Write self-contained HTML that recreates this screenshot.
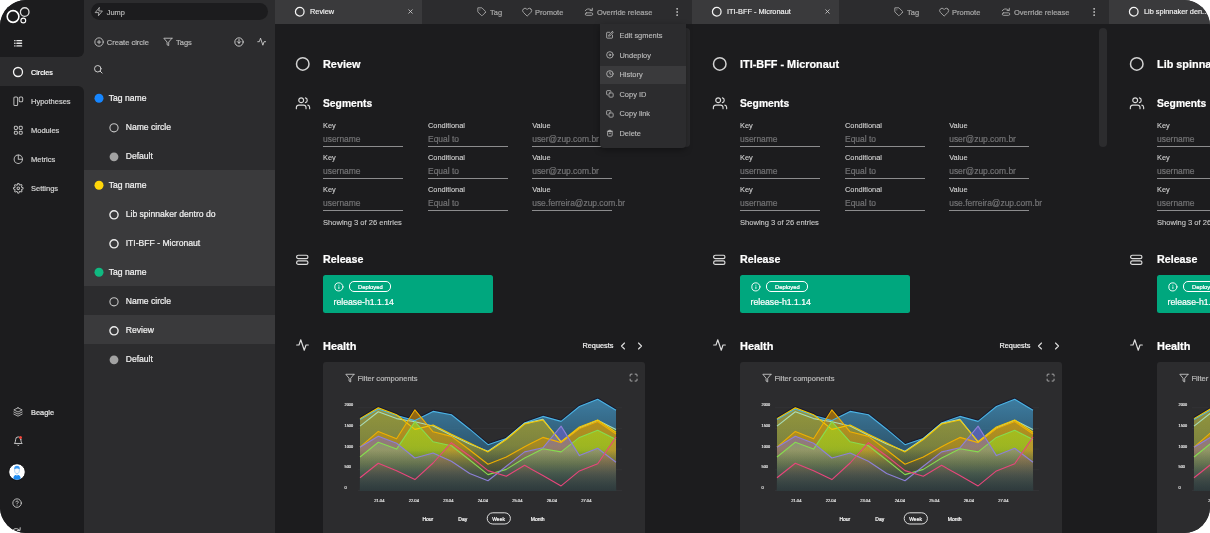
<!DOCTYPE html>
<html lang="en"><head><meta charset="utf-8"><title>Circles</title>
<style>
html,body{margin:0;padding:0;background:#fff;}
body{width:1210px;height:533px;overflow:hidden;position:relative;font-family:"Liberation Sans", sans-serif;}
#app{position:absolute;left:0;top:0;width:1210px;height:533px;background:#2c2c2e;border-radius:26px;overflow:hidden;will-change:transform;}
.b{position:absolute;box-sizing:content-box;}
.t{position:absolute;white-space:nowrap;-webkit-text-stroke:.22px currentColor;}
.i{position:absolute;overflow:visible;display:block;}
</style></head><body><div id="app">
<div class="b" style="left:0px;top:0px;width:84px;height:57px;background:#1c1c1e;border-bottom-right-radius:6px"></div>
<div class="b" style="left:0px;top:86px;width:84px;height:447px;background:#1c1c1e;border-top-right-radius:6px"></div>
<svg class="i" style="left:5px;top:5px;width:28px;height:22px" viewBox="0 0 28 22" fill="none" stroke="#fff"><circle cx="8.050" cy="11.500" r="5.850" stroke-width="1.600"/><circle cx="19.700" cy="7.050" r="4.300" stroke-width="1.300" stroke="#dcdcdc"/><circle cx="18.300" cy="15.500" r="2.400" stroke-width="1.100"/></svg>
<svg class="i" style="left:13px;top:38.2px;width:10.5px;height:10.5px" viewBox="0 0 24 24" fill="none" stroke="#e8e8e8" stroke-width="3.4" stroke-linecap="round" stroke-linejoin="round" ><line x1="9" y1="6" x2="19.500" y2="6"/><line x1="9" y1="12" x2="19.500" y2="12"/><line x1="9" y1="18" x2="19.500" y2="18"/><line x1="4" y1="6" x2="4.5" y2="6"/><line x1="4" y1="12" x2="4.5" y2="12"/><line x1="4" y1="18" x2="4.5" y2="18"/></svg>
<svg class="i" style="left:12px;top:66px;width:12px;height:12px" viewBox="0 0 24 24" fill="none" stroke="#f4f4f4" stroke-width="2.6" stroke-linecap="round" stroke-linejoin="round" ><circle cx="12" cy="12" r="9"/></svg>
<div class="t" style="left:31px;top:68px;font-size:7.2px;line-height:9px;color:#ffffff;font-weight:400;">Circles</div>
<svg class="i" style="left:12.7px;top:95.6px;width:10.6px;height:10.6px" viewBox="0 0 24 24" fill="none" stroke="#bcbcbc" stroke-width="2.3" stroke-linecap="round" stroke-linejoin="round" ><rect x="2" y="2.500" width="8.500" height="19" rx="2.500"/><rect x="14" y="2.500" width="8" height="10.500" rx="2.500"/></svg>
<div class="t" style="left:31px;top:97px;font-size:7.5px;line-height:9px;color:#d0d0d0;font-weight:400;">Hypotheses</div>
<svg class="i" style="left:12.7px;top:124.6px;width:10.6px;height:10.6px" viewBox="0 0 24 24" fill="none" stroke="#bcbcbc" stroke-width="2.3" stroke-linecap="round" stroke-linejoin="round" ><rect x="3" y="3" width="7" height="7" rx="2.2"/><rect x="14" y="3" width="7" height="7" rx="2.2"/><rect x="14" y="14" width="7" height="7" rx="2.2"/><rect x="3" y="14" width="7" height="7" rx="2.2"/></svg>
<div class="t" style="left:31px;top:126px;font-size:7.5px;line-height:9px;color:#d0d0d0;font-weight:400;">Modules</div>
<svg class="i" style="left:12.7px;top:153.6px;width:10.6px;height:10.6px" viewBox="0 0 24 24" fill="none" stroke="#bcbcbc" stroke-width="2.3" stroke-linecap="round" stroke-linejoin="round" ><circle cx="12" cy="12" r="9.5"/><path d="M12 2.5V12h9.5"/></svg>
<div class="t" style="left:31px;top:155px;font-size:7.5px;line-height:9px;color:#d0d0d0;font-weight:400;">Metrics</div>
<svg class="i" style="left:12.7px;top:182.6px;width:10.6px;height:10.6px" viewBox="0 0 24 24" fill="none" stroke="#bcbcbc" stroke-width="2.3" stroke-linecap="round" stroke-linejoin="round" ><circle cx="12" cy="12" r="3"/><path d="M19.4 15a1.65 1.65 0 0 0 .33 1.82l.06.06a2 2 0 0 1 0 2.83 2 2 0 0 1-2.83 0l-.06-.06a1.65 1.65 0 0 0-1.82-.33 1.65 1.65 0 0 0-1 1.51V21a2 2 0 0 1-2 2 2 2 0 0 1-2-2v-.09A1.65 1.65 0 0 0 9 19.4a1.65 1.65 0 0 0-1.82.33l-.06.06a2 2 0 0 1-2.83 0 2 2 0 0 1 0-2.83l.06-.06a1.65 1.65 0 0 0 .33-1.82 1.65 1.65 0 0 0-1.51-1H3a2 2 0 0 1-2-2 2 2 0 0 1 2-2h.09A1.65 1.65 0 0 0 4.6 9a1.65 1.65 0 0 0-.33-1.82l-.06-.06a2 2 0 0 1 0-2.83 2 2 0 0 1 2.83 0l.06.06a1.65 1.65 0 0 0 1.82.33H9a1.65 1.65 0 0 0 1-1.51V3a2 2 0 0 1 2-2 2 2 0 0 1 2 2v.09a1.65 1.65 0 0 0 1 1.51 1.65 1.65 0 0 0 1.82-.33l.06-.06a2 2 0 0 1 2.83 0 2 2 0 0 1 0 2.83l-.06.06a1.65 1.65 0 0 0-.33 1.82V9a1.65 1.65 0 0 0 1.51 1H21a2 2 0 0 1 2 2 2 2 0 0 1-2 2h-.09a1.65 1.65 0 0 0-1.51 1z"/></svg>
<div class="t" style="left:31px;top:184px;font-size:7.5px;line-height:9px;color:#d0d0d0;font-weight:400;">Settings</div>
<svg class="i" style="left:13px;top:407px;width:10px;height:10px" viewBox="0 0 24 24" fill="none" stroke="#c8c8c8" stroke-width="2" stroke-linecap="round" stroke-linejoin="round" ><polygon points="12 2 2 7 12 12 22 7 12 2"/><polyline points="2 17 12 22 22 17"/><polyline points="2 12 12 17 22 12"/></svg>
<div class="t" style="left:31px;top:408px;font-size:7.4px;line-height:9px;color:#e4e4e4;font-weight:400;">Beagle</div>
<svg class="i" style="left:12.5px;top:435.8px;width:10.5px;height:10.5px" viewBox="0 0 24 24" fill="none" stroke="#d4d4d4" stroke-width="2.1" stroke-linecap="round" stroke-linejoin="round" ><path d="M18 8A6 6 0 0 0 6 8c0 7-3 9-3 9h18s-3-2-3-9"/><path d="M13.73 21a2 2 0 0 1-3.46 0"/></svg>
<div class="b" style="left:19.2px;top:436.1px;width:3.1px;height:3.1px;background:#f0443a;border-radius:50%"></div>
<svg class="i" style="left:8.400px;top:462.600px;width:18px;height:18px" viewBox="0 0 18 18"><circle cx="9" cy="9" r="8.300" fill="#fff" stroke="#0e0e10" stroke-width="1"/><path d="M5.300 15.800c0-2.800 1.400-4 3.700-4s3.700 1.200 3.700 4a8 8 0 0 1-7.400 0z" fill="#1d8bf1"/><path d="M6.600 7.200c0-1.800 1-2.700 2.400-2.700s2.400.9 2.400 2.700c0 2.100-1 3.700-2.400 3.700s-2.400-1.600-2.400-3.700z" fill="#f7f9fc" stroke="#6aaee8" stroke-width=".55"/><path d="M6.200 6.300c-.3-2.600 1.100-3.600 2.800-3.600s3.100 1 2.800 3.600c-1-1.200-4.600-1.200-5.600 0z" fill="#3b9af5"/><path d="M8.300 11.200l.7 2.400.7-2.400z" fill="#fff"/></svg>
<svg class="i" style="left:12.3px;top:498.3px;width:10.2px;height:10.2px" viewBox="0 0 24 24" fill="none" stroke="#d0d0d0" stroke-width="2.1" stroke-linecap="round" stroke-linejoin="round" ><circle cx="12" cy="12" r="10"/><path d="M9.09 9a3 3 0 0 1 5.83 1c0 2-3 3-3 3"/><line x1="12" y1="17" x2="12.01" y2="17"/></svg>
<svg class="i" style="left:10.5px;top:525.8px;width:10.5px;height:10.5px" viewBox="0 0 24 24" fill="none" stroke="#d0d0d0" stroke-width="2.2" stroke-linecap="round" stroke-linejoin="round" ><path d="M2 14c2-9 12-11 18-4"/><polyline points="21 4 20.500 10.500 14.500 10"/></svg>
<div class="b" style="left:84px;top:170px;width:191px;height:116px;background:#3a3a3c;"></div>
<div class="b" style="left:84px;top:315px;width:191px;height:29px;background:#3a3a3c;"></div>
<div class="b" style="left:91px;top:3px;width:177px;height:17.3px;background:#1c1c1e;border-radius:9px"></div>
<svg class="i" style="left:94px;top:7.45px;width:9.6px;height:9.6px" viewBox="0 0 24 24" fill="none" stroke="#b4b4b4" stroke-width="2.2" stroke-linecap="round" stroke-linejoin="round" ><polygon points="13 2 3 14 12 14 11 22 21 10 12 10 13 2"/></svg>
<div class="t" style="left:106.8px;top:8px;font-size:7.4px;line-height:9px;color:#b4b4b4;font-weight:400;">Jump</div>
<svg class="i" style="left:93.6px;top:36.55px;width:10.1px;height:10.1px" viewBox="0 0 24 24" fill="none" stroke="#c0c0c0" stroke-width="2.2" stroke-linecap="round" stroke-linejoin="round" ><circle cx="12" cy="12" r="10"/><line x1="12" y1="8" x2="12" y2="16"/><line x1="8" y1="12" x2="16" y2="12"/></svg>
<div class="t" style="left:106.8px;top:38px;font-size:7.5px;line-height:9px;color:#b4b4b4;font-weight:400;">Create circle</div>
<svg class="i" style="left:162.6px;top:36.7px;width:9.8px;height:9.8px" viewBox="0 0 24 24" fill="none" stroke="#c0c0c0" stroke-width="2.2" stroke-linecap="round" stroke-linejoin="round" ><polygon points="22 3 2 3 10 12.46 10 19 14 21 14 12.46 22 3"/></svg>
<div class="t" style="left:176px;top:38px;font-size:7.5px;line-height:9px;color:#b4b4b4;font-weight:400;">Tags</div>
<svg class="i" style="left:233.5px;top:36.6px;width:10px;height:10px" viewBox="0 0 24 24" fill="none" stroke="#d4d4d4" stroke-width="2.2" stroke-linecap="round" stroke-linejoin="round" ><circle cx="12" cy="12" r="10"/><polyline points="8 11 12 15 16 11"/><line x1="12" y1="6" x2="12" y2="15"/></svg>
<svg class="i" style="left:257px;top:36.8px;width:9.4px;height:9.4px" viewBox="0 0 24 24" fill="none" stroke="#d4d4d4" stroke-width="2.2" stroke-linecap="round" stroke-linejoin="round" ><polyline points="22 12 18 12 15 21 9 3 6 12 2 12"/></svg>
<svg class="i" style="left:93.3px;top:63.7px;width:10.4px;height:10.4px" viewBox="0 0 24 24" fill="none" stroke="#d4d4d4" stroke-width="2.2" stroke-linecap="round" stroke-linejoin="round" ><circle cx="11" cy="11" r="7.5"/><line x1="21" y1="21" x2="16.65" y2="16.65"/></svg>
<svg class="i" style="left:94px;top:92.5px;width:10px;height:10px" viewBox="0 0 10 10"><circle cx="5" cy="5.2" r="4.5" fill="#1686ff"/></svg>
<div class="t" style="left:108.8px;top:93px;font-size:8.6px;line-height:10px;color:#f4f4f4;font-weight:400;">Tag name</div>
<svg class="i" style="left:109px;top:121.5px;width:10px;height:10px" viewBox="0 0 10 10"><circle cx="5" cy="5.800" r="4.100" fill="none" stroke="#c4c4c4" stroke-width="1.1"/></svg>
<div class="t" style="left:125.7px;top:122px;font-size:8.6px;line-height:10px;color:#efefef;font-weight:400;">Name circle</div>
<svg class="i" style="left:109px;top:150.5px;width:10px;height:10px" viewBox="0 0 10 10"><circle cx="5" cy="5.800" r="4.400" fill="#a2a2a2"/></svg>
<div class="t" style="left:125.7px;top:151px;font-size:8.6px;line-height:10px;color:#efefef;font-weight:400;">Default</div>
<svg class="i" style="left:94px;top:179.5px;width:10px;height:10px" viewBox="0 0 10 10"><circle cx="5" cy="5.2" r="4.5" fill="#ffd60a"/></svg>
<div class="t" style="left:108.8px;top:180px;font-size:8.6px;line-height:10px;color:#f4f4f4;font-weight:400;">Tag name</div>
<svg class="i" style="left:109px;top:208.5px;width:10px;height:10px" viewBox="0 0 10 10"><circle cx="5" cy="5.800" r="4.100" fill="none" stroke="#ececec" stroke-width="1.4"/></svg>
<div class="t" style="left:125.7px;top:209px;font-size:8.6px;line-height:10px;color:#efefef;font-weight:400;">Lib spinnaker dentro do</div>
<svg class="i" style="left:109px;top:237.5px;width:10px;height:10px" viewBox="0 0 10 10"><circle cx="5" cy="5.800" r="4.100" fill="none" stroke="#ececec" stroke-width="1.4"/></svg>
<div class="t" style="left:125.7px;top:238px;font-size:8.6px;line-height:10px;color:#efefef;font-weight:400;">ITI-BFF - Micronaut</div>
<svg class="i" style="left:94px;top:266.5px;width:10px;height:10px" viewBox="0 0 10 10"><circle cx="5" cy="5.2" r="4.5" fill="#10b981"/></svg>
<div class="t" style="left:108.8px;top:267px;font-size:8.6px;line-height:10px;color:#f4f4f4;font-weight:400;">Tag name</div>
<svg class="i" style="left:109px;top:295.5px;width:10px;height:10px" viewBox="0 0 10 10"><circle cx="5" cy="5.800" r="4.100" fill="none" stroke="#c4c4c4" stroke-width="1.1"/></svg>
<div class="t" style="left:125.7px;top:296px;font-size:8.6px;line-height:10px;color:#efefef;font-weight:400;">Name circle</div>
<svg class="i" style="left:109px;top:324.5px;width:10px;height:10px" viewBox="0 0 10 10"><circle cx="5" cy="5.800" r="4.100" fill="none" stroke="#ececec" stroke-width="1.4"/></svg>
<div class="t" style="left:125.7px;top:325px;font-size:8.6px;line-height:10px;color:#efefef;font-weight:400;">Review</div>
<svg class="i" style="left:109px;top:353.5px;width:10px;height:10px" viewBox="0 0 10 10"><circle cx="5" cy="5.800" r="4.400" fill="#a2a2a2"/></svg>
<div class="t" style="left:125.7px;top:354px;font-size:8.6px;line-height:10px;color:#efefef;font-weight:400;">Default</div>
<div class="b" style="left:275px;top:0px;width:147px;height:24px;background:#3a3a3c;"></div><svg class="i" style="left:294px;top:5.65px;width:11.5px;height:11.5px" viewBox="0 0 24 24" fill="none" stroke="#f4f4f4" stroke-width="2.6" stroke-linecap="round" stroke-linejoin="round" ><circle cx="12" cy="12" r="9"/></svg><div class="t" style="left:310px;top:7px;font-size:8px;line-height:9px;color:#f2f2f2;font-weight:400;-webkit-text-stroke:.18px currentColor;transform:scaleX(0.92);transform-origin:0 50%;">Review</div><svg class="i" style="left:406.9px;top:8.1px;width:7px;height:7px" viewBox="0 0 24 24" fill="none" stroke="#d4d4d4" stroke-width="2.7" stroke-linecap="round" stroke-linejoin="round" ><line x1="18" y1="6" x2="6" y2="18"/><line x1="6" y1="6" x2="18" y2="18"/></svg><svg class="i" style="left:476.5px;top:7.2px;width:9.8px;height:9.8px" viewBox="0 0 24 24" fill="none" stroke="#acacac" stroke-width="2.1" stroke-linecap="round" stroke-linejoin="round" ><path d="M20.59 13.41l-7.17 7.17a2 2 0 0 1-2.83 0L2 12V2h10l8.59 8.59a2 2 0 0 1 0 2.82z"/><line x1="7" y1="7" x2="7.01" y2="7"/></svg><div class="t" style="left:490px;top:8px;font-size:7.5px;line-height:9px;color:#a4a4a4;font-weight:400;">Tag</div><svg class="i" style="left:521.6px;top:7.1px;width:10.3px;height:10.3px" viewBox="0 0 24 24" fill="none" stroke="#acacac" stroke-width="2.1" stroke-linecap="round" stroke-linejoin="round" ><path d="M20.84 4.61a5.5 5.5 0 0 0-7.78 0L12 5.67l-1.06-1.06a5.5 5.5 0 0 0-7.78 7.78l1.06 1.06L12 21.23l7.78-7.78 1.06-1.06a5.5 5.5 0 0 0 0-7.78z"/></svg><div class="t" style="left:535px;top:8px;font-size:7.5px;line-height:9px;color:#a4a4a4;font-weight:400;">Promote</div><svg class="i" style="left:583.6px;top:7.3px;width:10px;height:10px" viewBox="0 0 24 24" fill="none" stroke="#acacac" stroke-width="2.1" stroke-linecap="round" stroke-linejoin="round" ><path d="M3 9c2-4 8-6 13-3l3 2"/><polyline points="20 3 20 8.5 14.5 8.5"/><rect x="3" y="14" width="18" height="6" rx="3"/></svg><div class="t" style="left:597px;top:8px;font-size:7.5px;line-height:9px;color:#a4a4a4;font-weight:400;">Override release</div><svg class="i" style="left:672px;top:7px;width:10px;height:10px" viewBox="0 0 24 24" fill="none" stroke="#c0c0c0" stroke-width="2.4" stroke-linecap="round" stroke-linejoin="round" ><circle cx="12" cy="12" r="1"/><circle cx="12" cy="4.5" r="1"/><circle cx="12" cy="19.5" r="1"/></svg><div class="b" style="left:275px;top:24px;width:417px;height:509px;background:#1c1c1e;"></div><div class="b" style="left:691.5px;top:24px;width:0.8px;height:509px;background:#262628;"></div><div class="b" style="left:681.7px;top:28px;width:8px;height:119px;background:#2c2c2e;border-radius:4px"></div><svg class="i" style="left:295px;top:55.500px;width:16px;height:16px" viewBox="0 0 16 16"><circle cx="7.750" cy="7.900" r="6.250" fill="none" stroke="#d2d2d2" stroke-width="1.500"/></svg><div class="t" style="left:323px;top:58px;font-size:11.5px;line-height:12px;color:#fff;font-weight:700;transform:scaleX(0.945);transform-origin:0 50%;">Review</div><svg class="i" style="left:294.8px;top:96.2px;width:16px;height:14.5px" viewBox="0 0 24 24" fill="none" stroke="#dcdcdc" stroke-width="1.9" stroke-linecap="round" stroke-linejoin="round" ><path d="M17 21v-2a4 4 0 0 0-4-4H5a4 4 0 0 0-4 4v2"/><circle cx="9" cy="7" r="4"/><path d="M23 21v-2a4 4 0 0 0-3-3.87"/><path d="M16 3.13a4 4 0 0 1 0 7.75"/></svg><div class="t" style="left:323px;top:97px;font-size:11.5px;line-height:12px;color:#fff;font-weight:700;transform:scaleX(0.895);transform-origin:0 50%;">Segments</div><div class="t" style="left:323px;top:121px;font-size:7.4px;line-height:9px;color:#d4d4d4;font-weight:400;-webkit-text-stroke:.1px currentColor;">Key</div><div class="t" style="left:323px;top:134px;font-size:8.45px;line-height:10px;color:#717173;font-weight:400;">username</div><div class="b" style="left:323px;top:145.9px;width:80px;height:1.1px;background:#8c8c8e;"></div><div class="t" style="left:428px;top:121px;font-size:7.4px;line-height:9px;color:#d4d4d4;font-weight:400;-webkit-text-stroke:.1px currentColor;">Conditional</div><div class="t" style="left:428px;top:134px;font-size:8.45px;line-height:10px;color:#717173;font-weight:400;">Equal to</div><div class="b" style="left:428px;top:145.9px;width:80px;height:1.1px;background:#8c8c8e;"></div><div class="t" style="left:532.2px;top:121px;font-size:7.4px;line-height:9px;color:#d4d4d4;font-weight:400;-webkit-text-stroke:.1px currentColor;">Value</div><div class="t" style="left:532.2px;top:134px;font-size:8.45px;line-height:10px;color:#717173;font-weight:400;">user@zup.com.br</div><div class="b" style="left:532.2px;top:145.9px;width:80px;height:1.1px;background:#8c8c8e;"></div><div class="t" style="left:323px;top:153px;font-size:7.4px;line-height:9px;color:#d4d4d4;font-weight:400;-webkit-text-stroke:.1px currentColor;">Key</div><div class="t" style="left:323px;top:166px;font-size:8.45px;line-height:10px;color:#717173;font-weight:400;">username</div><div class="b" style="left:323px;top:177.9px;width:80px;height:1.1px;background:#8c8c8e;"></div><div class="t" style="left:428px;top:153px;font-size:7.4px;line-height:9px;color:#d4d4d4;font-weight:400;-webkit-text-stroke:.1px currentColor;">Conditional</div><div class="t" style="left:428px;top:166px;font-size:8.45px;line-height:10px;color:#717173;font-weight:400;">Equal to</div><div class="b" style="left:428px;top:177.9px;width:80px;height:1.1px;background:#8c8c8e;"></div><div class="t" style="left:532.2px;top:153px;font-size:7.4px;line-height:9px;color:#d4d4d4;font-weight:400;-webkit-text-stroke:.1px currentColor;">Value</div><div class="t" style="left:532.2px;top:166px;font-size:8.45px;line-height:10px;color:#717173;font-weight:400;">user@zup.com.br</div><div class="b" style="left:532.2px;top:177.9px;width:80px;height:1.1px;background:#8c8c8e;"></div><div class="t" style="left:323px;top:185px;font-size:7.4px;line-height:9px;color:#d4d4d4;font-weight:400;-webkit-text-stroke:.1px currentColor;">Key</div><div class="t" style="left:323px;top:198px;font-size:8.45px;line-height:10px;color:#717173;font-weight:400;">username</div><div class="b" style="left:323px;top:209.9px;width:80px;height:1.1px;background:#8c8c8e;"></div><div class="t" style="left:428px;top:185px;font-size:7.4px;line-height:9px;color:#d4d4d4;font-weight:400;-webkit-text-stroke:.1px currentColor;">Conditional</div><div class="t" style="left:428px;top:198px;font-size:8.45px;line-height:10px;color:#717173;font-weight:400;">Equal to</div><div class="b" style="left:428px;top:209.9px;width:80px;height:1.1px;background:#8c8c8e;"></div><div class="t" style="left:532.2px;top:185px;font-size:7.4px;line-height:9px;color:#d4d4d4;font-weight:400;-webkit-text-stroke:.1px currentColor;">Value</div><div class="t" style="left:532.2px;top:198px;font-size:8.45px;line-height:10px;color:#717173;font-weight:400;">use.ferreira@zup.com.br</div><div class="b" style="left:532.2px;top:209.9px;width:80px;height:1.1px;background:#8c8c8e;"></div><div class="t" style="left:323px;top:218px;font-size:7.55px;line-height:9px;color:#cccccc;font-weight:400;-webkit-text-stroke:.1px currentColor;">Showing 3 of 26 entries</div><svg class="i" style="left:295.2px;top:252.7px;width:14.6px;height:13.6px" viewBox="0 0 24 24" fill="none" stroke="#dcdcdc" stroke-width="2.1" stroke-linecap="round" stroke-linejoin="round" ><rect x="2" y="4" width="20" height="6" rx="3"/><rect x="2" y="14" width="20" height="6" rx="3"/></svg><div class="t" style="left:323px;top:253px;font-size:11.5px;line-height:12px;color:#fff;font-weight:700;transform:scaleX(0.93);transform-origin:0 50%;">Release</div><div class="b" style="left:322.8px;top:274.9px;width:169.8px;height:37.8px;background:#00a77e;border-radius:2.500px"></div><svg class="i" style="left:333.7px;top:281.7px;width:9.8px;height:9.8px" viewBox="0 0 24 24" fill="none" stroke="#fff" stroke-width="2.3" stroke-linecap="round" stroke-linejoin="round" ><circle cx="12" cy="12" r="10"/><line x1="12" y1="16" x2="12" y2="12"/><line x1="12" y1="8" x2="12.01" y2="8"/></svg><div class="b" style="left:349.1px;top:281.200px;width:40.200px;height:8.600px;border:.8px solid #fff;border-radius:5px"></div><div class="t" style="left:358.1px;top:284px;font-size:5.85px;line-height:6px;color:#fff;font-weight:400;">Deployed</div><div class="t" style="left:333.5px;top:297px;font-size:8.7px;line-height:10px;color:#fff;font-weight:400;">release-h1.1.14</div><svg class="i" style="left:295px;top:338px;width:15px;height:14px" viewBox="0 0 24 24" fill="none" stroke="#dcdcdc" stroke-width="2" stroke-linecap="round" stroke-linejoin="round" ><polyline points="22 12 18 12 15 21 9 3 6 12 2 12"/></svg><div class="t" style="left:323px;top:340px;font-size:11.5px;line-height:12px;color:#fff;font-weight:700;transform:scaleX(0.95);transform-origin:0 50%;">Health</div><div class="t" style="left:582.5px;top:341px;font-size:7.3px;line-height:9px;color:#f0f0f0;font-weight:400;">Requests</div><svg class="i" style="left:617.3px;top:339.5px;width:12px;height:12px" viewBox="0 0 24 24" fill="none" stroke="#dcdcdc" stroke-width="2.3" stroke-linecap="round" stroke-linejoin="round" ><polyline points="15 18 9 12 15 6"/></svg><svg class="i" style="left:634.4px;top:339.5px;width:12px;height:12px" viewBox="0 0 24 24" fill="none" stroke="#dcdcdc" stroke-width="2.3" stroke-linecap="round" stroke-linejoin="round" ><polyline points="9 18 15 12 9 6"/></svg><div class="b" style="left:322.5px;top:362.3px;width:322.5px;height:175px;background:#2c2c2e;border-radius:3px"></div><svg class="i" style="left:344.5px;top:372.55px;width:9.8px;height:10.2px" viewBox="0 0 24 24" fill="none" stroke="#c8c8c8" stroke-width="2.1" stroke-linecap="round" stroke-linejoin="round" preserveAspectRatio="none"><polygon points="22 3 2 3 10 12.46 10 19 14 21 14 12.46 22 3"/></svg><div class="t" style="left:357.5px;top:374px;font-size:7.55px;line-height:9px;color:#b8b8b8;font-weight:400;">Filter components</div><svg class="i" style="left:628.6px;top:372.9px;width:9.2px;height:9.2px" viewBox="0 0 24 24" fill="none" stroke="#d0d0d0" stroke-width="2" stroke-linecap="round" stroke-linejoin="round" ><path d="M8 3H5a2 2 0 0 0-2 2v3m18 0V5a2 2 0 0 0-2-2h-3m0 18h3a2 2 0 0 0 2-2v-3M3 16v3a2 2 0 0 0 2 2h3"/></svg><svg class="i" style="left:323px;top:390px;width:322px;height:143px" viewBox="323 390 322 143"><defs><linearGradient id="gblue275" x1="0" y1="400" x2="0" y2="492" gradientUnits="userSpaceOnUse"><stop offset="0" stop-color="#4398c8" stop-opacity="0.74"/><stop offset="1" stop-color="#1c4a66" stop-opacity="0.55"/></linearGradient><linearGradient id="gmint275" x1="0" y1="400" x2="0" y2="492" gradientUnits="userSpaceOnUse"><stop offset="0" stop-color="#8c9438" stop-opacity="0.52"/><stop offset="0.5" stop-color="#8c9438" stop-opacity="0.36"/><stop offset="1" stop-color="#6a6a20" stop-opacity="0"/></linearGradient><linearGradient id="gy1275" x1="0" y1="400" x2="0" y2="492" gradientUnits="userSpaceOnUse"><stop offset="0" stop-color="#dcae00" stop-opacity="0.62"/><stop offset="0.5" stop-color="#d0a400" stop-opacity="0.42"/><stop offset="1" stop-color="#7a6400" stop-opacity="0"/></linearGradient><linearGradient id="gy2275" x1="0" y1="400" x2="0" y2="492" gradientUnits="userSpaceOnUse"><stop offset="0" stop-color="#e09400" stop-opacity="0.64"/><stop offset="0.5" stop-color="#d89000" stop-opacity="0.42"/><stop offset="1" stop-color="#6a4800" stop-opacity="0"/></linearGradient><linearGradient id="gpurple275" x1="0" y1="400" x2="0" y2="492" gradientUnits="userSpaceOnUse"><stop offset="0" stop-color="#5e54e4" stop-opacity="0.62"/><stop offset="0.45" stop-color="#7a68d8" stop-opacity="0.5"/><stop offset="0.7" stop-color="#a88890" stop-opacity="0.36"/><stop offset="1" stop-color="#a08088" stop-opacity="0.22"/></linearGradient><linearGradient id="ggreen275" x1="0" y1="400" x2="0" y2="492" gradientUnits="userSpaceOnUse"><stop offset="0" stop-color="#a8e418" stop-opacity="0.6"/><stop offset="0.55" stop-color="#98d820" stop-opacity="0.56"/><stop offset="0.8" stop-color="#3a9a5c" stop-opacity="0.5"/><stop offset="1" stop-color="#1a8a64" stop-opacity="0.5"/></linearGradient><linearGradient id="gpink275" x1="0" y1="400" x2="0" y2="492" gradientUnits="userSpaceOnUse"><stop offset="0" stop-color="#f07434" stop-opacity="0.48"/><stop offset="0.55" stop-color="#e07040" stop-opacity="0.38"/><stop offset="1" stop-color="#7a5c6c" stop-opacity="0.2"/></linearGradient></defs><line x1="358" y1="407.7" x2="622" y2="407.7" stroke="#38383a" stroke-width=".6"/><line x1="358" y1="428.4" x2="622" y2="428.4" stroke="#38383a" stroke-width=".6"/><line x1="358" y1="449.1" x2="622" y2="449.1" stroke="#38383a" stroke-width=".6"/><line x1="358" y1="469.8" x2="622" y2="469.8" stroke="#38383a" stroke-width=".6"/><line x1="358" y1="490.5" x2="622" y2="490.5" stroke="#38383a" stroke-width=".6"/><polygon points="360.0,419.5 378.3,409.0 396.6,415.5 414.9,420.6 433.1,411.4 451.4,414.8 469.7,429.2 488.0,444.7 506.3,438.5 524.6,423.0 542.9,416.4 561.1,421.4 579.4,406.5 597.7,399.3 616.0,410.2 616,490.5 360,490.5" fill="url(#gblue275)"/><polygon points="360.0,418.6 378.3,407.8 396.6,414.7 414.9,429.4 433.1,425.0 451.4,434.3 469.7,443.0 488.0,451.9 506.3,439.5 524.6,424.0 542.9,420.0 561.1,441.6 579.4,427.0 597.7,420.0 616.0,432.3 616,490.5 360,490.5" fill="url(#gy1275)"/><polygon points="360.0,426.1 378.3,411.7 396.6,418.6 414.9,421.8 433.1,426.0 451.4,435.3 469.7,444.0 488.0,451.2 506.3,438.7 524.6,423.4 542.9,419.3 561.1,442.0 579.4,428.0 597.7,420.3 616.0,429.4 616,490.5 360,490.5" fill="url(#gmint275)"/><polygon points="360.0,447.2 378.3,431.4 396.6,438.7 414.9,409.8 433.1,431.8 451.4,436.4 469.7,450.0 488.0,464.3 506.3,457.0 524.6,446.7 542.9,437.4 561.1,442.6 579.4,428.5 597.7,421.5 616.0,434.0 616,490.5 360,490.5" fill="url(#gy2275)"/><polygon points="360.0,457.0 378.3,442.2 396.6,449.1 414.9,421.6 433.1,441.8 451.4,445.7 469.7,460.0 488.0,474.6 506.3,469.4 524.6,458.0 542.9,448.8 561.1,451.9 579.4,437.4 597.7,430.2 616.0,439.5 616,490.5 360,490.5" fill="url(#ggreen275)"/><polygon points="360.0,447.2 378.3,436.3 396.6,443.2 414.9,458.0 433.1,453.0 451.4,461.2 469.7,473.5 488.0,480.8 506.3,466.3 524.6,451.9 542.9,447.8 561.1,426.1 579.4,455.6 597.7,448.2 616.0,462.2 616,490.5 360,490.5" fill="url(#gpurple275)"/><polygon points="360.0,477.7 378.3,463.3 396.6,470.8 414.9,479.6 433.1,463.0 451.4,442.6 469.7,456.0 488.0,470.6 506.3,476.2 524.6,465.3 542.9,475.6 561.1,485.9 579.4,470.9 597.7,463.8 616.0,437.0 616,490.5 360,490.5" fill="url(#gpink275)"/><linearGradient id="ov275" x1="0" y1="450" x2="0" y2="490.5" gradientUnits="userSpaceOnUse"><stop offset="0" stop-color="#2e393b" stop-opacity="0"/><stop offset=".55" stop-color="#2e393b" stop-opacity=".52"/><stop offset="1" stop-color="#2e393b" stop-opacity=".97"/></linearGradient><polygon points="360.0,418.6 361.0,418.0 362.0,417.4 363.0,416.8 364.0,416.2 365.0,415.6 366.0,415.1 367.0,414.5 368.0,413.9 369.0,413.3 370.0,412.7 371.0,412.1 372.0,411.5 373.0,410.9 374.0,410.3 375.0,409.7 376.0,409.2 377.0,408.6 378.0,408.0 379.0,408.1 380.0,408.4 381.0,408.8 382.0,409.2 383.0,409.6 384.0,410.0 385.0,410.3 386.0,410.7 387.0,411.1 388.0,411.5 389.0,411.8 390.0,412.2 391.0,412.6 392.0,413.0 393.0,413.4 394.0,413.7 395.0,414.1 396.0,414.5 397.0,415.0 398.0,415.8 399.0,416.2 400.0,416.5 401.0,416.7 402.0,417.0 403.0,417.3 404.0,417.6 405.0,417.9 406.0,418.1 407.0,418.4 408.0,418.7 409.0,419.0 410.0,417.5 411.0,415.9 412.0,414.3 413.0,412.7 414.0,411.2 415.0,410.0 416.0,411.2 417.0,412.4 418.0,413.6 419.0,414.8 420.0,416.0 421.0,417.2 422.0,417.0 423.0,416.5 424.0,416.0 425.0,415.5 426.0,415.0 427.0,414.5 428.0,414.0 429.0,413.5 430.0,413.0 431.0,412.5 432.0,412.0 433.0,411.5 434.0,411.6 435.0,411.7 436.0,411.9 437.0,412.1 438.0,412.3 439.0,412.5 440.0,412.7 441.0,412.9 442.0,413.0 443.0,413.2 444.0,413.4 445.0,413.6 446.0,413.8 447.0,414.0 448.0,414.2 449.0,414.3 450.0,414.5 451.0,414.7 452.0,415.2 453.0,416.0 454.0,416.8 455.0,417.6 456.0,418.4 457.0,419.2 458.0,420.0 459.0,420.8 460.0,421.6 461.0,422.3 462.0,423.1 463.0,423.9 464.0,424.7 465.0,425.5 466.0,426.3 467.0,427.1 468.0,427.8 469.0,428.6 470.0,429.4 471.0,430.3 472.0,431.1 473.0,432.0 474.0,432.8 475.0,433.7 476.0,434.5 477.0,435.4 478.0,436.2 479.0,437.1 480.0,437.9 481.0,438.8 482.0,439.6 483.0,440.5 484.0,441.3 485.0,442.2 486.0,443.0 487.0,443.9 488.0,444.7 489.0,444.4 490.0,444.0 491.0,443.7 492.0,443.3 493.0,443.0 494.0,442.7 495.0,442.3 496.0,442.0 497.0,441.6 498.0,441.3 499.0,441.0 500.0,440.6 501.0,440.3 502.0,440.0 503.0,439.6 504.0,439.3 505.0,438.9 506.0,438.6 507.0,437.9 508.0,437.0 509.0,436.2 510.0,435.4 511.0,434.5 512.0,433.7 513.0,432.8 514.0,432.0 515.0,431.1 516.0,430.3 517.0,429.4 518.0,428.6 519.0,427.7 520.0,426.9 521.0,426.0 522.0,425.2 523.0,424.3 524.0,423.5 525.0,422.8 526.0,422.5 527.0,422.1 528.0,421.8 529.0,421.4 530.0,421.0 531.0,420.7 532.0,420.3 533.0,420.0 534.0,419.6 535.0,419.2 536.0,418.9 537.0,418.5 538.0,418.2 539.0,417.8 540.0,417.4 541.0,417.1 542.0,416.7 543.0,416.4 544.0,416.7 545.0,417.0 546.0,417.3 547.0,417.5 548.0,417.8 549.0,418.1 550.0,418.4 551.0,418.6 552.0,418.9 553.0,419.2 554.0,419.4 555.0,419.7 556.0,420.0 557.0,420.3 558.0,420.5 559.0,420.8 560.0,421.1 561.0,421.4 562.0,420.7 563.0,419.9 564.0,419.1 565.0,418.3 566.0,417.4 567.0,416.6 568.0,415.8 569.0,415.0 570.0,414.2 571.0,413.4 572.0,412.6 573.0,411.7 574.0,410.9 575.0,410.1 576.0,409.3 577.0,408.5 578.0,407.7 579.0,406.8 580.0,406.3 581.0,405.9 582.0,405.5 583.0,405.1 584.0,404.7 585.0,404.3 586.0,403.9 587.0,403.5 588.0,403.1 589.0,402.7 590.0,402.3 591.0,401.9 592.0,401.6 593.0,401.2 594.0,400.8 595.0,400.4 596.0,400.0 597.0,399.6 598.0,399.5 599.0,400.1 600.0,400.7 601.0,401.3 602.0,401.9 603.0,402.5 604.0,403.0 605.0,403.6 606.0,404.2 607.0,404.8 608.0,405.4 609.0,406.0 610.0,406.6 611.0,407.2 612.0,407.8 613.0,408.4 614.0,409.0 615.0,409.6 616.0,410.2 616.3,491.1 359.7,491.1" fill="url(#ov275)"/><polyline points="360.0,417.5 361.0,416.9 362.0,416.3 363.0,415.7 364.0,415.1 365.0,414.5 366.0,414.0 367.0,413.4 368.0,412.8 369.0,412.2 370.0,411.6 371.0,411.0 372.0,410.4 373.0,409.8 374.0,409.2 375.0,408.6 376.0,408.1 377.0,407.5 378.0,406.9 379.0,407.0 380.0,407.3 381.0,407.7 382.0,408.1 383.0,408.5 384.0,408.9 385.0,409.2 386.0,409.6 387.0,410.0 388.0,410.4 389.0,410.7 390.0,411.1 391.0,411.5 392.0,411.9 393.0,412.3 394.0,412.6 395.0,413.0 396.0,413.4 397.0,413.9 398.0,414.7 399.0,415.1 400.0,415.4 401.0,415.6 402.0,415.9 403.0,416.2 404.0,416.5 405.0,416.8 406.0,417.0 407.0,417.3 408.0,417.6 409.0,417.9 410.0,416.4 411.0,414.8 412.0,413.2 413.0,411.6 414.0,410.1 415.0,408.9 416.0,410.1 417.0,411.3 418.0,412.5 419.0,413.7 420.0,414.9 421.0,416.1 422.0,415.9 423.0,415.4 424.0,414.9 425.0,414.4 426.0,413.9 427.0,413.4 428.0,412.9 429.0,412.4 430.0,411.9 431.0,411.4 432.0,410.9 433.0,410.4 434.0,410.5 435.0,410.6 436.0,410.8 437.0,411.0 438.0,411.2 439.0,411.4 440.0,411.6 441.0,411.8 442.0,411.9 443.0,412.1 444.0,412.3 445.0,412.5 446.0,412.7 447.0,412.9 448.0,413.1 449.0,413.2 450.0,413.4 451.0,413.6 452.0,414.1 453.0,414.9 454.0,415.7 455.0,416.5 456.0,417.3 457.0,418.1 458.0,418.9 459.0,419.7 460.0,420.4 461.0,421.2 462.0,422.0 463.0,422.8 464.0,423.6 465.0,424.4 466.0,425.2 467.0,426.0 468.0,426.7 469.0,427.5 470.0,428.3 471.0,429.2 472.0,430.0 473.0,430.9 474.0,431.7 475.0,432.6 476.0,433.4 477.0,434.3 478.0,435.1 479.0,436.0 480.0,436.8 481.0,437.7 482.0,438.5 483.0,439.4 484.0,440.2 485.0,441.1 486.0,441.9 487.0,442.8 488.0,443.6 489.0,443.3 490.0,442.9 491.0,442.6 492.0,442.2 493.0,441.9 494.0,441.6 495.0,441.2 496.0,440.9 497.0,440.5 498.0,440.2 499.0,439.9 500.0,439.5 501.0,439.2 502.0,438.9 503.0,438.5 504.0,438.2 505.0,437.8 506.0,437.5 507.0,436.8 508.0,435.9 509.0,435.1 510.0,434.3 511.0,433.4 512.0,432.6 513.0,431.7 514.0,430.9 515.0,430.0 516.0,429.2 517.0,428.3 518.0,427.5 519.0,426.6 520.0,425.8 521.0,424.9 522.0,424.1 523.0,423.2 524.0,422.4 525.0,421.7 526.0,421.4 527.0,421.0 528.0,420.7 529.0,420.3 530.0,419.9 531.0,419.6 532.0,419.2 533.0,418.9 534.0,418.5 535.0,418.1 536.0,417.8 537.0,417.4 538.0,417.1 539.0,416.7 540.0,416.3 541.0,416.0 542.0,415.6 543.0,415.3 544.0,415.6 545.0,415.9 546.0,416.2 547.0,416.4 548.0,416.7 549.0,417.0 550.0,417.3 551.0,417.5 552.0,417.8 553.0,418.1 554.0,418.3 555.0,418.6 556.0,418.9 557.0,419.2 558.0,419.4 559.0,419.7 560.0,420.0 561.0,420.3 562.0,419.6 563.0,418.8 564.0,418.0 565.0,417.2 566.0,416.3 567.0,415.5 568.0,414.7 569.0,413.9 570.0,413.1 571.0,412.3 572.0,411.5 573.0,410.6 574.0,409.8 575.0,409.0 576.0,408.2 577.0,407.4 578.0,406.6 579.0,405.7 580.0,405.2 581.0,404.8 582.0,404.4 583.0,404.0 584.0,403.6 585.0,403.2 586.0,402.8 587.0,402.4 588.0,402.0 589.0,401.6 590.0,401.2 591.0,400.8 592.0,400.4 593.0,400.1 594.0,399.7 595.0,399.3 596.0,398.9 597.0,398.5 598.0,398.4 599.0,399.0 600.0,399.6 601.0,400.2 602.0,400.8 603.0,401.4 604.0,401.9 605.0,402.5 606.0,403.1 607.0,403.7 608.0,404.3 609.0,404.9 610.0,405.5 611.0,406.1 612.0,406.7 613.0,407.3 614.0,407.9 615.0,408.5 616.0,409.1" fill="none" stroke="#16182e" stroke-width="1.3" stroke-linejoin="round" opacity=".85"/><polyline points="360.0,419.5 378.3,409.0 396.6,415.5 414.9,420.6 433.1,411.4 451.4,414.8 469.7,429.2 488.0,444.7 506.3,438.5 524.6,423.0 542.9,416.4 561.1,421.4 579.4,406.5 597.7,399.3 616.0,410.2" fill="none" stroke="#4ab4e6" stroke-width="1.100" stroke-linejoin="round"/><polyline points="360.0,426.1 378.3,411.7 396.6,418.6 414.9,421.8 433.1,426.0 451.4,435.3 469.7,444.0 488.0,451.2 506.3,438.7 524.6,423.4 542.9,419.3 561.1,442.0 579.4,428.0 597.7,420.3 616.0,429.4" fill="none" stroke="#a8dcb8" stroke-width="1.100" stroke-linejoin="round"/><polyline points="360.0,418.6 378.3,407.8 396.6,414.7 414.9,429.4 433.1,425.0 451.4,434.3 469.7,443.0 488.0,451.9 506.3,439.5 524.6,424.0 542.9,420.0 561.1,441.6 579.4,427.0 597.7,420.0 616.0,432.3" fill="none" stroke="#f5c800" stroke-width="1.100" stroke-linejoin="round"/><polyline points="360.0,447.2 378.3,431.4 396.6,438.7 414.9,409.8 433.1,431.8 451.4,436.4 469.7,450.0 488.0,464.3 506.3,457.0 524.6,446.7 542.9,437.4 561.1,442.6 579.4,428.5 597.7,421.5 616.0,434.0" fill="none" stroke="#f0b000" stroke-width="1.100" stroke-linejoin="round"/><polyline points="360.0,457.0 378.3,442.2 396.6,449.1 414.9,421.6 433.1,441.8 451.4,445.7 469.7,460.0 488.0,474.6 506.3,469.4 524.6,458.0 542.9,448.8 561.1,451.9 579.4,437.4 597.7,430.2 616.0,439.5" fill="none" stroke="#86dc50" stroke-width="1.100" stroke-linejoin="round"/><polyline points="360.0,447.2 378.3,436.3 396.6,443.2 414.9,458.0 433.1,453.0 451.4,461.2 469.7,473.5 488.0,480.8 506.3,466.3 524.6,451.9 542.9,447.8 561.1,426.1 579.4,455.6 597.7,448.2 616.0,462.2" fill="none" stroke="#8d80d8" stroke-width="1.100" stroke-linejoin="round"/><polyline points="360.0,477.7 378.3,463.3 396.6,470.8 414.9,479.6 433.1,463.0 451.4,442.6 469.7,456.0 488.0,470.6 506.3,476.2 524.6,465.3 542.9,475.6 561.1,485.9 579.4,470.9 597.7,463.8 616.0,437.0" fill="none" stroke="#e8467c" stroke-width="1.100" stroke-linejoin="round"/><text x="344.500" y="406.3" font-size="3.900" fill="#ececec" stroke="#ececec" stroke-width=".15" font-family='"Liberation Sans", sans-serif'>2000</text><text x="344.500" y="427.0" font-size="3.900" fill="#ececec" stroke="#ececec" stroke-width=".15" font-family='"Liberation Sans", sans-serif'>1500</text><text x="344.500" y="447.7" font-size="3.900" fill="#ececec" stroke="#ececec" stroke-width=".15" font-family='"Liberation Sans", sans-serif'>1000</text><text x="344.500" y="468.4" font-size="3.900" fill="#ececec" stroke="#ececec" stroke-width=".15" font-family='"Liberation Sans", sans-serif'>500</text><text x="344.500" y="489.1" font-size="3.900" fill="#ececec" stroke="#ececec" stroke-width=".15" font-family='"Liberation Sans", sans-serif'>0</text><text x="379.3" y="502.200" font-size="4.100" fill="#ececec" stroke="#ececec" stroke-width=".15" text-anchor="middle" font-family='"Liberation Sans", sans-serif'>21.04</text><text x="413.8" y="502.200" font-size="4.100" fill="#ececec" stroke="#ececec" stroke-width=".15" text-anchor="middle" font-family='"Liberation Sans", sans-serif'>22.04</text><text x="448.3" y="502.200" font-size="4.100" fill="#ececec" stroke="#ececec" stroke-width=".15" text-anchor="middle" font-family='"Liberation Sans", sans-serif'>23.04</text><text x="482.8" y="502.200" font-size="4.100" fill="#ececec" stroke="#ececec" stroke-width=".15" text-anchor="middle" font-family='"Liberation Sans", sans-serif'>24.04</text><text x="517.3" y="502.200" font-size="4.100" fill="#ececec" stroke="#ececec" stroke-width=".15" text-anchor="middle" font-family='"Liberation Sans", sans-serif'>25.04</text><text x="551.8" y="502.200" font-size="4.100" fill="#ececec" stroke="#ececec" stroke-width=".15" text-anchor="middle" font-family='"Liberation Sans", sans-serif'>26.04</text><text x="586.3" y="502.200" font-size="4.100" fill="#ececec" stroke="#ececec" stroke-width=".15" text-anchor="middle" font-family='"Liberation Sans", sans-serif'>27.04</text><text x="427.8" y="520.800" font-size="5" fill="#f4f4f4" stroke="#f4f4f4" stroke-width=".22" text-anchor="middle" font-family='"Liberation Sans", sans-serif'>Hour</text><text x="462.8" y="520.800" font-size="5" fill="#f4f4f4" stroke="#f4f4f4" stroke-width=".22" text-anchor="middle" font-family='"Liberation Sans", sans-serif'>Day</text><text x="498.6" y="520.800" font-size="5" fill="#f4f4f4" stroke="#f4f4f4" stroke-width=".22" text-anchor="middle" font-family='"Liberation Sans", sans-serif'>Week</text><text x="537.7" y="520.800" font-size="5" fill="#f4f4f4" stroke="#f4f4f4" stroke-width=".22" text-anchor="middle" font-family='"Liberation Sans", sans-serif'>Month</text><rect x="487.200" y="512.800" width="23.200" height="11.200" rx="5.600" fill="none" stroke="#dedede" stroke-width="1"/></svg>
<div class="b" style="left:692px;top:0px;width:147px;height:24px;background:#3a3a3c;"></div><svg class="i" style="left:711px;top:5.65px;width:11.5px;height:11.5px" viewBox="0 0 24 24" fill="none" stroke="#f4f4f4" stroke-width="2.6" stroke-linecap="round" stroke-linejoin="round" ><circle cx="12" cy="12" r="9"/></svg><div class="t" style="left:727px;top:7px;font-size:8px;line-height:9px;color:#f2f2f2;font-weight:400;-webkit-text-stroke:.18px currentColor;transform:scaleX(0.92);transform-origin:0 50%;">ITI-BFF - Micronaut</div><svg class="i" style="left:823.9px;top:8.1px;width:7px;height:7px" viewBox="0 0 24 24" fill="none" stroke="#d4d4d4" stroke-width="2.7" stroke-linecap="round" stroke-linejoin="round" ><line x1="18" y1="6" x2="6" y2="18"/><line x1="6" y1="6" x2="18" y2="18"/></svg><svg class="i" style="left:893.5px;top:7.2px;width:9.8px;height:9.8px" viewBox="0 0 24 24" fill="none" stroke="#acacac" stroke-width="2.1" stroke-linecap="round" stroke-linejoin="round" ><path d="M20.59 13.41l-7.17 7.17a2 2 0 0 1-2.83 0L2 12V2h10l8.59 8.59a2 2 0 0 1 0 2.82z"/><line x1="7" y1="7" x2="7.01" y2="7"/></svg><div class="t" style="left:907px;top:8px;font-size:7.5px;line-height:9px;color:#a4a4a4;font-weight:400;">Tag</div><svg class="i" style="left:938.6px;top:7.1px;width:10.3px;height:10.3px" viewBox="0 0 24 24" fill="none" stroke="#acacac" stroke-width="2.1" stroke-linecap="round" stroke-linejoin="round" ><path d="M20.84 4.61a5.5 5.5 0 0 0-7.78 0L12 5.67l-1.06-1.06a5.5 5.5 0 0 0-7.78 7.78l1.06 1.06L12 21.23l7.78-7.78 1.06-1.06a5.5 5.5 0 0 0 0-7.78z"/></svg><div class="t" style="left:952px;top:8px;font-size:7.5px;line-height:9px;color:#a4a4a4;font-weight:400;">Promote</div><svg class="i" style="left:1000.6px;top:7.3px;width:10px;height:10px" viewBox="0 0 24 24" fill="none" stroke="#acacac" stroke-width="2.1" stroke-linecap="round" stroke-linejoin="round" ><path d="M3 9c2-4 8-6 13-3l3 2"/><polyline points="20 3 20 8.5 14.5 8.5"/><rect x="3" y="14" width="18" height="6" rx="3"/></svg><div class="t" style="left:1014px;top:8px;font-size:7.5px;line-height:9px;color:#a4a4a4;font-weight:400;">Override release</div><svg class="i" style="left:1089px;top:7px;width:10px;height:10px" viewBox="0 0 24 24" fill="none" stroke="#c0c0c0" stroke-width="2.4" stroke-linecap="round" stroke-linejoin="round" ><circle cx="12" cy="12" r="1"/><circle cx="12" cy="4.5" r="1"/><circle cx="12" cy="19.5" r="1"/></svg><div class="b" style="left:692px;top:24px;width:417px;height:509px;background:#1c1c1e;"></div><div class="b" style="left:1108.5px;top:24px;width:0.8px;height:509px;background:#262628;"></div><div class="b" style="left:1098.7px;top:28px;width:8px;height:119px;background:#2c2c2e;border-radius:4px"></div><svg class="i" style="left:712px;top:55.500px;width:16px;height:16px" viewBox="0 0 16 16"><circle cx="7.750" cy="7.900" r="6.250" fill="none" stroke="#d2d2d2" stroke-width="1.500"/></svg><div class="t" style="left:740px;top:58px;font-size:11.5px;line-height:12px;color:#fff;font-weight:700;transform:scaleX(0.945);transform-origin:0 50%;">ITI-BFF - Micronaut</div><svg class="i" style="left:711.8px;top:96.2px;width:16px;height:14.5px" viewBox="0 0 24 24" fill="none" stroke="#dcdcdc" stroke-width="1.9" stroke-linecap="round" stroke-linejoin="round" ><path d="M17 21v-2a4 4 0 0 0-4-4H5a4 4 0 0 0-4 4v2"/><circle cx="9" cy="7" r="4"/><path d="M23 21v-2a4 4 0 0 0-3-3.87"/><path d="M16 3.13a4 4 0 0 1 0 7.75"/></svg><div class="t" style="left:740px;top:97px;font-size:11.5px;line-height:12px;color:#fff;font-weight:700;transform:scaleX(0.895);transform-origin:0 50%;">Segments</div><div class="t" style="left:740px;top:121px;font-size:7.4px;line-height:9px;color:#d4d4d4;font-weight:400;-webkit-text-stroke:.1px currentColor;">Key</div><div class="t" style="left:740px;top:134px;font-size:8.45px;line-height:10px;color:#717173;font-weight:400;">username</div><div class="b" style="left:740px;top:145.9px;width:80px;height:1.1px;background:#8c8c8e;"></div><div class="t" style="left:845px;top:121px;font-size:7.4px;line-height:9px;color:#d4d4d4;font-weight:400;-webkit-text-stroke:.1px currentColor;">Conditional</div><div class="t" style="left:845px;top:134px;font-size:8.45px;line-height:10px;color:#717173;font-weight:400;">Equal to</div><div class="b" style="left:845px;top:145.9px;width:80px;height:1.1px;background:#8c8c8e;"></div><div class="t" style="left:949.2px;top:121px;font-size:7.4px;line-height:9px;color:#d4d4d4;font-weight:400;-webkit-text-stroke:.1px currentColor;">Value</div><div class="t" style="left:949.2px;top:134px;font-size:8.45px;line-height:10px;color:#717173;font-weight:400;">user@zup.com.br</div><div class="b" style="left:949.2px;top:145.9px;width:80px;height:1.1px;background:#8c8c8e;"></div><div class="t" style="left:740px;top:153px;font-size:7.4px;line-height:9px;color:#d4d4d4;font-weight:400;-webkit-text-stroke:.1px currentColor;">Key</div><div class="t" style="left:740px;top:166px;font-size:8.45px;line-height:10px;color:#717173;font-weight:400;">username</div><div class="b" style="left:740px;top:177.9px;width:80px;height:1.1px;background:#8c8c8e;"></div><div class="t" style="left:845px;top:153px;font-size:7.4px;line-height:9px;color:#d4d4d4;font-weight:400;-webkit-text-stroke:.1px currentColor;">Conditional</div><div class="t" style="left:845px;top:166px;font-size:8.45px;line-height:10px;color:#717173;font-weight:400;">Equal to</div><div class="b" style="left:845px;top:177.9px;width:80px;height:1.1px;background:#8c8c8e;"></div><div class="t" style="left:949.2px;top:153px;font-size:7.4px;line-height:9px;color:#d4d4d4;font-weight:400;-webkit-text-stroke:.1px currentColor;">Value</div><div class="t" style="left:949.2px;top:166px;font-size:8.45px;line-height:10px;color:#717173;font-weight:400;">user@zup.com.br</div><div class="b" style="left:949.2px;top:177.9px;width:80px;height:1.1px;background:#8c8c8e;"></div><div class="t" style="left:740px;top:185px;font-size:7.4px;line-height:9px;color:#d4d4d4;font-weight:400;-webkit-text-stroke:.1px currentColor;">Key</div><div class="t" style="left:740px;top:198px;font-size:8.45px;line-height:10px;color:#717173;font-weight:400;">username</div><div class="b" style="left:740px;top:209.9px;width:80px;height:1.1px;background:#8c8c8e;"></div><div class="t" style="left:845px;top:185px;font-size:7.4px;line-height:9px;color:#d4d4d4;font-weight:400;-webkit-text-stroke:.1px currentColor;">Conditional</div><div class="t" style="left:845px;top:198px;font-size:8.45px;line-height:10px;color:#717173;font-weight:400;">Equal to</div><div class="b" style="left:845px;top:209.9px;width:80px;height:1.1px;background:#8c8c8e;"></div><div class="t" style="left:949.2px;top:185px;font-size:7.4px;line-height:9px;color:#d4d4d4;font-weight:400;-webkit-text-stroke:.1px currentColor;">Value</div><div class="t" style="left:949.2px;top:198px;font-size:8.45px;line-height:10px;color:#717173;font-weight:400;">use.ferreira@zup.com.br</div><div class="b" style="left:949.2px;top:209.9px;width:80px;height:1.1px;background:#8c8c8e;"></div><div class="t" style="left:740px;top:218px;font-size:7.55px;line-height:9px;color:#cccccc;font-weight:400;-webkit-text-stroke:.1px currentColor;">Showing 3 of 26 entries</div><svg class="i" style="left:712.2px;top:252.7px;width:14.6px;height:13.6px" viewBox="0 0 24 24" fill="none" stroke="#dcdcdc" stroke-width="2.1" stroke-linecap="round" stroke-linejoin="round" ><rect x="2" y="4" width="20" height="6" rx="3"/><rect x="2" y="14" width="20" height="6" rx="3"/></svg><div class="t" style="left:740px;top:253px;font-size:11.5px;line-height:12px;color:#fff;font-weight:700;transform:scaleX(0.93);transform-origin:0 50%;">Release</div><div class="b" style="left:739.8px;top:274.9px;width:169.8px;height:37.8px;background:#00a77e;border-radius:2.500px"></div><svg class="i" style="left:750.7px;top:281.7px;width:9.8px;height:9.8px" viewBox="0 0 24 24" fill="none" stroke="#fff" stroke-width="2.3" stroke-linecap="round" stroke-linejoin="round" ><circle cx="12" cy="12" r="10"/><line x1="12" y1="16" x2="12" y2="12"/><line x1="12" y1="8" x2="12.01" y2="8"/></svg><div class="b" style="left:766.1px;top:281.200px;width:40.200px;height:8.600px;border:.8px solid #fff;border-radius:5px"></div><div class="t" style="left:775.1px;top:284px;font-size:5.85px;line-height:6px;color:#fff;font-weight:400;">Deployed</div><div class="t" style="left:750.5px;top:297px;font-size:8.7px;line-height:10px;color:#fff;font-weight:400;">release-h1.1.14</div><svg class="i" style="left:712px;top:338px;width:15px;height:14px" viewBox="0 0 24 24" fill="none" stroke="#dcdcdc" stroke-width="2" stroke-linecap="round" stroke-linejoin="round" ><polyline points="22 12 18 12 15 21 9 3 6 12 2 12"/></svg><div class="t" style="left:740px;top:340px;font-size:11.5px;line-height:12px;color:#fff;font-weight:700;transform:scaleX(0.95);transform-origin:0 50%;">Health</div><div class="t" style="left:999.5px;top:341px;font-size:7.3px;line-height:9px;color:#f0f0f0;font-weight:400;">Requests</div><svg class="i" style="left:1034.3px;top:339.5px;width:12px;height:12px" viewBox="0 0 24 24" fill="none" stroke="#dcdcdc" stroke-width="2.3" stroke-linecap="round" stroke-linejoin="round" ><polyline points="15 18 9 12 15 6"/></svg><svg class="i" style="left:1051.4px;top:339.5px;width:12px;height:12px" viewBox="0 0 24 24" fill="none" stroke="#dcdcdc" stroke-width="2.3" stroke-linecap="round" stroke-linejoin="round" ><polyline points="9 18 15 12 9 6"/></svg><div class="b" style="left:739.5px;top:362.3px;width:322.5px;height:175px;background:#2c2c2e;border-radius:3px"></div><svg class="i" style="left:761.5px;top:372.55px;width:9.8px;height:10.2px" viewBox="0 0 24 24" fill="none" stroke="#c8c8c8" stroke-width="2.1" stroke-linecap="round" stroke-linejoin="round" preserveAspectRatio="none"><polygon points="22 3 2 3 10 12.46 10 19 14 21 14 12.46 22 3"/></svg><div class="t" style="left:774.5px;top:374px;font-size:7.55px;line-height:9px;color:#b8b8b8;font-weight:400;">Filter components</div><svg class="i" style="left:1045.6px;top:372.9px;width:9.2px;height:9.2px" viewBox="0 0 24 24" fill="none" stroke="#d0d0d0" stroke-width="2" stroke-linecap="round" stroke-linejoin="round" ><path d="M8 3H5a2 2 0 0 0-2 2v3m18 0V5a2 2 0 0 0-2-2h-3m0 18h3a2 2 0 0 0 2-2v-3M3 16v3a2 2 0 0 0 2 2h3"/></svg><svg class="i" style="left:740px;top:390px;width:322px;height:143px" viewBox="323 390 322 143"><defs><linearGradient id="gblue692" x1="0" y1="400" x2="0" y2="492" gradientUnits="userSpaceOnUse"><stop offset="0" stop-color="#4398c8" stop-opacity="0.74"/><stop offset="1" stop-color="#1c4a66" stop-opacity="0.55"/></linearGradient><linearGradient id="gmint692" x1="0" y1="400" x2="0" y2="492" gradientUnits="userSpaceOnUse"><stop offset="0" stop-color="#8c9438" stop-opacity="0.52"/><stop offset="0.5" stop-color="#8c9438" stop-opacity="0.36"/><stop offset="1" stop-color="#6a6a20" stop-opacity="0"/></linearGradient><linearGradient id="gy1692" x1="0" y1="400" x2="0" y2="492" gradientUnits="userSpaceOnUse"><stop offset="0" stop-color="#dcae00" stop-opacity="0.62"/><stop offset="0.5" stop-color="#d0a400" stop-opacity="0.42"/><stop offset="1" stop-color="#7a6400" stop-opacity="0"/></linearGradient><linearGradient id="gy2692" x1="0" y1="400" x2="0" y2="492" gradientUnits="userSpaceOnUse"><stop offset="0" stop-color="#e09400" stop-opacity="0.64"/><stop offset="0.5" stop-color="#d89000" stop-opacity="0.42"/><stop offset="1" stop-color="#6a4800" stop-opacity="0"/></linearGradient><linearGradient id="gpurple692" x1="0" y1="400" x2="0" y2="492" gradientUnits="userSpaceOnUse"><stop offset="0" stop-color="#5e54e4" stop-opacity="0.62"/><stop offset="0.45" stop-color="#7a68d8" stop-opacity="0.5"/><stop offset="0.7" stop-color="#a88890" stop-opacity="0.36"/><stop offset="1" stop-color="#a08088" stop-opacity="0.22"/></linearGradient><linearGradient id="ggreen692" x1="0" y1="400" x2="0" y2="492" gradientUnits="userSpaceOnUse"><stop offset="0" stop-color="#a8e418" stop-opacity="0.6"/><stop offset="0.55" stop-color="#98d820" stop-opacity="0.56"/><stop offset="0.8" stop-color="#3a9a5c" stop-opacity="0.5"/><stop offset="1" stop-color="#1a8a64" stop-opacity="0.5"/></linearGradient><linearGradient id="gpink692" x1="0" y1="400" x2="0" y2="492" gradientUnits="userSpaceOnUse"><stop offset="0" stop-color="#f07434" stop-opacity="0.48"/><stop offset="0.55" stop-color="#e07040" stop-opacity="0.38"/><stop offset="1" stop-color="#7a5c6c" stop-opacity="0.2"/></linearGradient></defs><line x1="358" y1="407.7" x2="622" y2="407.7" stroke="#38383a" stroke-width=".6"/><line x1="358" y1="428.4" x2="622" y2="428.4" stroke="#38383a" stroke-width=".6"/><line x1="358" y1="449.1" x2="622" y2="449.1" stroke="#38383a" stroke-width=".6"/><line x1="358" y1="469.8" x2="622" y2="469.8" stroke="#38383a" stroke-width=".6"/><line x1="358" y1="490.5" x2="622" y2="490.5" stroke="#38383a" stroke-width=".6"/><polygon points="360.0,419.5 378.3,409.0 396.6,415.5 414.9,420.6 433.1,411.4 451.4,414.8 469.7,429.2 488.0,444.7 506.3,438.5 524.6,423.0 542.9,416.4 561.1,421.4 579.4,406.5 597.7,399.3 616.0,410.2 616,490.5 360,490.5" fill="url(#gblue692)"/><polygon points="360.0,418.6 378.3,407.8 396.6,414.7 414.9,429.4 433.1,425.0 451.4,434.3 469.7,443.0 488.0,451.9 506.3,439.5 524.6,424.0 542.9,420.0 561.1,441.6 579.4,427.0 597.7,420.0 616.0,432.3 616,490.5 360,490.5" fill="url(#gy1692)"/><polygon points="360.0,426.1 378.3,411.7 396.6,418.6 414.9,421.8 433.1,426.0 451.4,435.3 469.7,444.0 488.0,451.2 506.3,438.7 524.6,423.4 542.9,419.3 561.1,442.0 579.4,428.0 597.7,420.3 616.0,429.4 616,490.5 360,490.5" fill="url(#gmint692)"/><polygon points="360.0,447.2 378.3,431.4 396.6,438.7 414.9,409.8 433.1,431.8 451.4,436.4 469.7,450.0 488.0,464.3 506.3,457.0 524.6,446.7 542.9,437.4 561.1,442.6 579.4,428.5 597.7,421.5 616.0,434.0 616,490.5 360,490.5" fill="url(#gy2692)"/><polygon points="360.0,457.0 378.3,442.2 396.6,449.1 414.9,421.6 433.1,441.8 451.4,445.7 469.7,460.0 488.0,474.6 506.3,469.4 524.6,458.0 542.9,448.8 561.1,451.9 579.4,437.4 597.7,430.2 616.0,439.5 616,490.5 360,490.5" fill="url(#ggreen692)"/><polygon points="360.0,447.2 378.3,436.3 396.6,443.2 414.9,458.0 433.1,453.0 451.4,461.2 469.7,473.5 488.0,480.8 506.3,466.3 524.6,451.9 542.9,447.8 561.1,426.1 579.4,455.6 597.7,448.2 616.0,462.2 616,490.5 360,490.5" fill="url(#gpurple692)"/><polygon points="360.0,477.7 378.3,463.3 396.6,470.8 414.9,479.6 433.1,463.0 451.4,442.6 469.7,456.0 488.0,470.6 506.3,476.2 524.6,465.3 542.9,475.6 561.1,485.9 579.4,470.9 597.7,463.8 616.0,437.0 616,490.5 360,490.5" fill="url(#gpink692)"/><linearGradient id="ov692" x1="0" y1="450" x2="0" y2="490.5" gradientUnits="userSpaceOnUse"><stop offset="0" stop-color="#2e393b" stop-opacity="0"/><stop offset=".55" stop-color="#2e393b" stop-opacity=".52"/><stop offset="1" stop-color="#2e393b" stop-opacity=".97"/></linearGradient><polygon points="360.0,418.6 361.0,418.0 362.0,417.4 363.0,416.8 364.0,416.2 365.0,415.6 366.0,415.1 367.0,414.5 368.0,413.9 369.0,413.3 370.0,412.7 371.0,412.1 372.0,411.5 373.0,410.9 374.0,410.3 375.0,409.7 376.0,409.2 377.0,408.6 378.0,408.0 379.0,408.1 380.0,408.4 381.0,408.8 382.0,409.2 383.0,409.6 384.0,410.0 385.0,410.3 386.0,410.7 387.0,411.1 388.0,411.5 389.0,411.8 390.0,412.2 391.0,412.6 392.0,413.0 393.0,413.4 394.0,413.7 395.0,414.1 396.0,414.5 397.0,415.0 398.0,415.8 399.0,416.2 400.0,416.5 401.0,416.7 402.0,417.0 403.0,417.3 404.0,417.6 405.0,417.9 406.0,418.1 407.0,418.4 408.0,418.7 409.0,419.0 410.0,417.5 411.0,415.9 412.0,414.3 413.0,412.7 414.0,411.2 415.0,410.0 416.0,411.2 417.0,412.4 418.0,413.6 419.0,414.8 420.0,416.0 421.0,417.2 422.0,417.0 423.0,416.5 424.0,416.0 425.0,415.5 426.0,415.0 427.0,414.5 428.0,414.0 429.0,413.5 430.0,413.0 431.0,412.5 432.0,412.0 433.0,411.5 434.0,411.6 435.0,411.7 436.0,411.9 437.0,412.1 438.0,412.3 439.0,412.5 440.0,412.7 441.0,412.9 442.0,413.0 443.0,413.2 444.0,413.4 445.0,413.6 446.0,413.8 447.0,414.0 448.0,414.2 449.0,414.3 450.0,414.5 451.0,414.7 452.0,415.2 453.0,416.0 454.0,416.8 455.0,417.6 456.0,418.4 457.0,419.2 458.0,420.0 459.0,420.8 460.0,421.6 461.0,422.3 462.0,423.1 463.0,423.9 464.0,424.7 465.0,425.5 466.0,426.3 467.0,427.1 468.0,427.8 469.0,428.6 470.0,429.4 471.0,430.3 472.0,431.1 473.0,432.0 474.0,432.8 475.0,433.7 476.0,434.5 477.0,435.4 478.0,436.2 479.0,437.1 480.0,437.9 481.0,438.8 482.0,439.6 483.0,440.5 484.0,441.3 485.0,442.2 486.0,443.0 487.0,443.9 488.0,444.7 489.0,444.4 490.0,444.0 491.0,443.7 492.0,443.3 493.0,443.0 494.0,442.7 495.0,442.3 496.0,442.0 497.0,441.6 498.0,441.3 499.0,441.0 500.0,440.6 501.0,440.3 502.0,440.0 503.0,439.6 504.0,439.3 505.0,438.9 506.0,438.6 507.0,437.9 508.0,437.0 509.0,436.2 510.0,435.4 511.0,434.5 512.0,433.7 513.0,432.8 514.0,432.0 515.0,431.1 516.0,430.3 517.0,429.4 518.0,428.6 519.0,427.7 520.0,426.9 521.0,426.0 522.0,425.2 523.0,424.3 524.0,423.5 525.0,422.8 526.0,422.5 527.0,422.1 528.0,421.8 529.0,421.4 530.0,421.0 531.0,420.7 532.0,420.3 533.0,420.0 534.0,419.6 535.0,419.2 536.0,418.9 537.0,418.5 538.0,418.2 539.0,417.8 540.0,417.4 541.0,417.1 542.0,416.7 543.0,416.4 544.0,416.7 545.0,417.0 546.0,417.3 547.0,417.5 548.0,417.8 549.0,418.1 550.0,418.4 551.0,418.6 552.0,418.9 553.0,419.2 554.0,419.4 555.0,419.7 556.0,420.0 557.0,420.3 558.0,420.5 559.0,420.8 560.0,421.1 561.0,421.4 562.0,420.7 563.0,419.9 564.0,419.1 565.0,418.3 566.0,417.4 567.0,416.6 568.0,415.8 569.0,415.0 570.0,414.2 571.0,413.4 572.0,412.6 573.0,411.7 574.0,410.9 575.0,410.1 576.0,409.3 577.0,408.5 578.0,407.7 579.0,406.8 580.0,406.3 581.0,405.9 582.0,405.5 583.0,405.1 584.0,404.7 585.0,404.3 586.0,403.9 587.0,403.5 588.0,403.1 589.0,402.7 590.0,402.3 591.0,401.9 592.0,401.6 593.0,401.2 594.0,400.8 595.0,400.4 596.0,400.0 597.0,399.6 598.0,399.5 599.0,400.1 600.0,400.7 601.0,401.3 602.0,401.9 603.0,402.5 604.0,403.0 605.0,403.6 606.0,404.2 607.0,404.8 608.0,405.4 609.0,406.0 610.0,406.6 611.0,407.2 612.0,407.8 613.0,408.4 614.0,409.0 615.0,409.6 616.0,410.2 616.3,491.1 359.7,491.1" fill="url(#ov692)"/><polyline points="360.0,417.5 361.0,416.9 362.0,416.3 363.0,415.7 364.0,415.1 365.0,414.5 366.0,414.0 367.0,413.4 368.0,412.8 369.0,412.2 370.0,411.6 371.0,411.0 372.0,410.4 373.0,409.8 374.0,409.2 375.0,408.6 376.0,408.1 377.0,407.5 378.0,406.9 379.0,407.0 380.0,407.3 381.0,407.7 382.0,408.1 383.0,408.5 384.0,408.9 385.0,409.2 386.0,409.6 387.0,410.0 388.0,410.4 389.0,410.7 390.0,411.1 391.0,411.5 392.0,411.9 393.0,412.3 394.0,412.6 395.0,413.0 396.0,413.4 397.0,413.9 398.0,414.7 399.0,415.1 400.0,415.4 401.0,415.6 402.0,415.9 403.0,416.2 404.0,416.5 405.0,416.8 406.0,417.0 407.0,417.3 408.0,417.6 409.0,417.9 410.0,416.4 411.0,414.8 412.0,413.2 413.0,411.6 414.0,410.1 415.0,408.9 416.0,410.1 417.0,411.3 418.0,412.5 419.0,413.7 420.0,414.9 421.0,416.1 422.0,415.9 423.0,415.4 424.0,414.9 425.0,414.4 426.0,413.9 427.0,413.4 428.0,412.9 429.0,412.4 430.0,411.9 431.0,411.4 432.0,410.9 433.0,410.4 434.0,410.5 435.0,410.6 436.0,410.8 437.0,411.0 438.0,411.2 439.0,411.4 440.0,411.6 441.0,411.8 442.0,411.9 443.0,412.1 444.0,412.3 445.0,412.5 446.0,412.7 447.0,412.9 448.0,413.1 449.0,413.2 450.0,413.4 451.0,413.6 452.0,414.1 453.0,414.9 454.0,415.7 455.0,416.5 456.0,417.3 457.0,418.1 458.0,418.9 459.0,419.7 460.0,420.4 461.0,421.2 462.0,422.0 463.0,422.8 464.0,423.6 465.0,424.4 466.0,425.2 467.0,426.0 468.0,426.7 469.0,427.5 470.0,428.3 471.0,429.2 472.0,430.0 473.0,430.9 474.0,431.7 475.0,432.6 476.0,433.4 477.0,434.3 478.0,435.1 479.0,436.0 480.0,436.8 481.0,437.7 482.0,438.5 483.0,439.4 484.0,440.2 485.0,441.1 486.0,441.9 487.0,442.8 488.0,443.6 489.0,443.3 490.0,442.9 491.0,442.6 492.0,442.2 493.0,441.9 494.0,441.6 495.0,441.2 496.0,440.9 497.0,440.5 498.0,440.2 499.0,439.9 500.0,439.5 501.0,439.2 502.0,438.9 503.0,438.5 504.0,438.2 505.0,437.8 506.0,437.5 507.0,436.8 508.0,435.9 509.0,435.1 510.0,434.3 511.0,433.4 512.0,432.6 513.0,431.7 514.0,430.9 515.0,430.0 516.0,429.2 517.0,428.3 518.0,427.5 519.0,426.6 520.0,425.8 521.0,424.9 522.0,424.1 523.0,423.2 524.0,422.4 525.0,421.7 526.0,421.4 527.0,421.0 528.0,420.7 529.0,420.3 530.0,419.9 531.0,419.6 532.0,419.2 533.0,418.9 534.0,418.5 535.0,418.1 536.0,417.8 537.0,417.4 538.0,417.1 539.0,416.7 540.0,416.3 541.0,416.0 542.0,415.6 543.0,415.3 544.0,415.6 545.0,415.9 546.0,416.2 547.0,416.4 548.0,416.7 549.0,417.0 550.0,417.3 551.0,417.5 552.0,417.8 553.0,418.1 554.0,418.3 555.0,418.6 556.0,418.9 557.0,419.2 558.0,419.4 559.0,419.7 560.0,420.0 561.0,420.3 562.0,419.6 563.0,418.8 564.0,418.0 565.0,417.2 566.0,416.3 567.0,415.5 568.0,414.7 569.0,413.9 570.0,413.1 571.0,412.3 572.0,411.5 573.0,410.6 574.0,409.8 575.0,409.0 576.0,408.2 577.0,407.4 578.0,406.6 579.0,405.7 580.0,405.2 581.0,404.8 582.0,404.4 583.0,404.0 584.0,403.6 585.0,403.2 586.0,402.8 587.0,402.4 588.0,402.0 589.0,401.6 590.0,401.2 591.0,400.8 592.0,400.4 593.0,400.1 594.0,399.7 595.0,399.3 596.0,398.9 597.0,398.5 598.0,398.4 599.0,399.0 600.0,399.6 601.0,400.2 602.0,400.8 603.0,401.4 604.0,401.9 605.0,402.5 606.0,403.1 607.0,403.7 608.0,404.3 609.0,404.9 610.0,405.5 611.0,406.1 612.0,406.7 613.0,407.3 614.0,407.9 615.0,408.5 616.0,409.1" fill="none" stroke="#16182e" stroke-width="1.3" stroke-linejoin="round" opacity=".85"/><polyline points="360.0,419.5 378.3,409.0 396.6,415.5 414.9,420.6 433.1,411.4 451.4,414.8 469.7,429.2 488.0,444.7 506.3,438.5 524.6,423.0 542.9,416.4 561.1,421.4 579.4,406.5 597.7,399.3 616.0,410.2" fill="none" stroke="#4ab4e6" stroke-width="1.100" stroke-linejoin="round"/><polyline points="360.0,426.1 378.3,411.7 396.6,418.6 414.9,421.8 433.1,426.0 451.4,435.3 469.7,444.0 488.0,451.2 506.3,438.7 524.6,423.4 542.9,419.3 561.1,442.0 579.4,428.0 597.7,420.3 616.0,429.4" fill="none" stroke="#a8dcb8" stroke-width="1.100" stroke-linejoin="round"/><polyline points="360.0,418.6 378.3,407.8 396.6,414.7 414.9,429.4 433.1,425.0 451.4,434.3 469.7,443.0 488.0,451.9 506.3,439.5 524.6,424.0 542.9,420.0 561.1,441.6 579.4,427.0 597.7,420.0 616.0,432.3" fill="none" stroke="#f5c800" stroke-width="1.100" stroke-linejoin="round"/><polyline points="360.0,447.2 378.3,431.4 396.6,438.7 414.9,409.8 433.1,431.8 451.4,436.4 469.7,450.0 488.0,464.3 506.3,457.0 524.6,446.7 542.9,437.4 561.1,442.6 579.4,428.5 597.7,421.5 616.0,434.0" fill="none" stroke="#f0b000" stroke-width="1.100" stroke-linejoin="round"/><polyline points="360.0,457.0 378.3,442.2 396.6,449.1 414.9,421.6 433.1,441.8 451.4,445.7 469.7,460.0 488.0,474.6 506.3,469.4 524.6,458.0 542.9,448.8 561.1,451.9 579.4,437.4 597.7,430.2 616.0,439.5" fill="none" stroke="#86dc50" stroke-width="1.100" stroke-linejoin="round"/><polyline points="360.0,447.2 378.3,436.3 396.6,443.2 414.9,458.0 433.1,453.0 451.4,461.2 469.7,473.5 488.0,480.8 506.3,466.3 524.6,451.9 542.9,447.8 561.1,426.1 579.4,455.6 597.7,448.2 616.0,462.2" fill="none" stroke="#8d80d8" stroke-width="1.100" stroke-linejoin="round"/><polyline points="360.0,477.7 378.3,463.3 396.6,470.8 414.9,479.6 433.1,463.0 451.4,442.6 469.7,456.0 488.0,470.6 506.3,476.2 524.6,465.3 542.9,475.6 561.1,485.9 579.4,470.9 597.7,463.8 616.0,437.0" fill="none" stroke="#e8467c" stroke-width="1.100" stroke-linejoin="round"/><text x="344.500" y="406.3" font-size="3.900" fill="#ececec" stroke="#ececec" stroke-width=".15" font-family='"Liberation Sans", sans-serif'>2000</text><text x="344.500" y="427.0" font-size="3.900" fill="#ececec" stroke="#ececec" stroke-width=".15" font-family='"Liberation Sans", sans-serif'>1500</text><text x="344.500" y="447.7" font-size="3.900" fill="#ececec" stroke="#ececec" stroke-width=".15" font-family='"Liberation Sans", sans-serif'>1000</text><text x="344.500" y="468.4" font-size="3.900" fill="#ececec" stroke="#ececec" stroke-width=".15" font-family='"Liberation Sans", sans-serif'>500</text><text x="344.500" y="489.1" font-size="3.900" fill="#ececec" stroke="#ececec" stroke-width=".15" font-family='"Liberation Sans", sans-serif'>0</text><text x="379.3" y="502.200" font-size="4.100" fill="#ececec" stroke="#ececec" stroke-width=".15" text-anchor="middle" font-family='"Liberation Sans", sans-serif'>21.04</text><text x="413.8" y="502.200" font-size="4.100" fill="#ececec" stroke="#ececec" stroke-width=".15" text-anchor="middle" font-family='"Liberation Sans", sans-serif'>22.04</text><text x="448.3" y="502.200" font-size="4.100" fill="#ececec" stroke="#ececec" stroke-width=".15" text-anchor="middle" font-family='"Liberation Sans", sans-serif'>23.04</text><text x="482.8" y="502.200" font-size="4.100" fill="#ececec" stroke="#ececec" stroke-width=".15" text-anchor="middle" font-family='"Liberation Sans", sans-serif'>24.04</text><text x="517.3" y="502.200" font-size="4.100" fill="#ececec" stroke="#ececec" stroke-width=".15" text-anchor="middle" font-family='"Liberation Sans", sans-serif'>25.04</text><text x="551.8" y="502.200" font-size="4.100" fill="#ececec" stroke="#ececec" stroke-width=".15" text-anchor="middle" font-family='"Liberation Sans", sans-serif'>26.04</text><text x="586.3" y="502.200" font-size="4.100" fill="#ececec" stroke="#ececec" stroke-width=".15" text-anchor="middle" font-family='"Liberation Sans", sans-serif'>27.04</text><text x="427.8" y="520.800" font-size="5" fill="#f4f4f4" stroke="#f4f4f4" stroke-width=".22" text-anchor="middle" font-family='"Liberation Sans", sans-serif'>Hour</text><text x="462.8" y="520.800" font-size="5" fill="#f4f4f4" stroke="#f4f4f4" stroke-width=".22" text-anchor="middle" font-family='"Liberation Sans", sans-serif'>Day</text><text x="498.6" y="520.800" font-size="5" fill="#f4f4f4" stroke="#f4f4f4" stroke-width=".22" text-anchor="middle" font-family='"Liberation Sans", sans-serif'>Week</text><text x="537.7" y="520.800" font-size="5" fill="#f4f4f4" stroke="#f4f4f4" stroke-width=".22" text-anchor="middle" font-family='"Liberation Sans", sans-serif'>Month</text><rect x="487.200" y="512.800" width="23.200" height="11.200" rx="5.600" fill="none" stroke="#dedede" stroke-width="1"/></svg>
<div class="b" style="left:1109px;top:0px;width:147px;height:24px;background:#3a3a3c;"></div><svg class="i" style="left:1128px;top:5.65px;width:11.5px;height:11.5px" viewBox="0 0 24 24" fill="none" stroke="#f4f4f4" stroke-width="2.6" stroke-linecap="round" stroke-linejoin="round" ><circle cx="12" cy="12" r="9"/></svg><div class="t" style="left:1144px;top:7px;font-size:8px;line-height:9px;color:#f2f2f2;font-weight:400;-webkit-text-stroke:.18px currentColor;transform:scaleX(0.92);transform-origin:0 50%;">Lib spinnaker den...</div><svg class="i" style="left:1240.9px;top:8.1px;width:7px;height:7px" viewBox="0 0 24 24" fill="none" stroke="#d4d4d4" stroke-width="2.7" stroke-linecap="round" stroke-linejoin="round" ><line x1="18" y1="6" x2="6" y2="18"/><line x1="6" y1="6" x2="18" y2="18"/></svg><svg class="i" style="left:1310.5px;top:7.2px;width:9.8px;height:9.8px" viewBox="0 0 24 24" fill="none" stroke="#acacac" stroke-width="2.1" stroke-linecap="round" stroke-linejoin="round" ><path d="M20.59 13.41l-7.17 7.17a2 2 0 0 1-2.83 0L2 12V2h10l8.59 8.59a2 2 0 0 1 0 2.82z"/><line x1="7" y1="7" x2="7.01" y2="7"/></svg><div class="t" style="left:1324px;top:8px;font-size:7.5px;line-height:9px;color:#a4a4a4;font-weight:400;">Tag</div><svg class="i" style="left:1355.6px;top:7.1px;width:10.3px;height:10.3px" viewBox="0 0 24 24" fill="none" stroke="#acacac" stroke-width="2.1" stroke-linecap="round" stroke-linejoin="round" ><path d="M20.84 4.61a5.5 5.5 0 0 0-7.78 0L12 5.67l-1.06-1.06a5.5 5.5 0 0 0-7.78 7.78l1.06 1.06L12 21.23l7.78-7.78 1.06-1.06a5.5 5.5 0 0 0 0-7.78z"/></svg><div class="t" style="left:1369px;top:8px;font-size:7.5px;line-height:9px;color:#a4a4a4;font-weight:400;">Promote</div><svg class="i" style="left:1417.6px;top:7.3px;width:10px;height:10px" viewBox="0 0 24 24" fill="none" stroke="#acacac" stroke-width="2.1" stroke-linecap="round" stroke-linejoin="round" ><path d="M3 9c2-4 8-6 13-3l3 2"/><polyline points="20 3 20 8.5 14.5 8.5"/><rect x="3" y="14" width="18" height="6" rx="3"/></svg><div class="t" style="left:1431px;top:8px;font-size:7.5px;line-height:9px;color:#a4a4a4;font-weight:400;">Override release</div><svg class="i" style="left:1506px;top:7px;width:10px;height:10px" viewBox="0 0 24 24" fill="none" stroke="#c0c0c0" stroke-width="2.4" stroke-linecap="round" stroke-linejoin="round" ><circle cx="12" cy="12" r="1"/><circle cx="12" cy="4.5" r="1"/><circle cx="12" cy="19.5" r="1"/></svg><div class="b" style="left:1109px;top:24px;width:417px;height:509px;background:#1c1c1e;"></div><div class="b" style="left:1525.5px;top:24px;width:0.8px;height:509px;background:#262628;"></div><div class="b" style="left:1515.7px;top:28px;width:8px;height:119px;background:#2c2c2e;border-radius:4px"></div><svg class="i" style="left:1129px;top:55.500px;width:16px;height:16px" viewBox="0 0 16 16"><circle cx="7.750" cy="7.900" r="6.250" fill="none" stroke="#d2d2d2" stroke-width="1.500"/></svg><div class="t" style="left:1157px;top:58px;font-size:11.5px;line-height:12px;color:#fff;font-weight:700;transform:scaleX(0.945);transform-origin:0 50%;">Lib spinnaker dentro do</div><svg class="i" style="left:1128.8px;top:96.2px;width:16px;height:14.5px" viewBox="0 0 24 24" fill="none" stroke="#dcdcdc" stroke-width="1.9" stroke-linecap="round" stroke-linejoin="round" ><path d="M17 21v-2a4 4 0 0 0-4-4H5a4 4 0 0 0-4 4v2"/><circle cx="9" cy="7" r="4"/><path d="M23 21v-2a4 4 0 0 0-3-3.87"/><path d="M16 3.13a4 4 0 0 1 0 7.75"/></svg><div class="t" style="left:1157px;top:97px;font-size:11.5px;line-height:12px;color:#fff;font-weight:700;transform:scaleX(0.895);transform-origin:0 50%;">Segments</div><div class="t" style="left:1157px;top:121px;font-size:7.4px;line-height:9px;color:#d4d4d4;font-weight:400;-webkit-text-stroke:.1px currentColor;">Key</div><div class="t" style="left:1157px;top:134px;font-size:8.45px;line-height:10px;color:#717173;font-weight:400;">username</div><div class="b" style="left:1157px;top:145.9px;width:80px;height:1.1px;background:#8c8c8e;"></div><div class="t" style="left:1262px;top:121px;font-size:7.4px;line-height:9px;color:#d4d4d4;font-weight:400;-webkit-text-stroke:.1px currentColor;">Conditional</div><div class="t" style="left:1262px;top:134px;font-size:8.45px;line-height:10px;color:#717173;font-weight:400;">Equal to</div><div class="b" style="left:1262px;top:145.9px;width:80px;height:1.1px;background:#8c8c8e;"></div><div class="t" style="left:1366.2px;top:121px;font-size:7.4px;line-height:9px;color:#d4d4d4;font-weight:400;-webkit-text-stroke:.1px currentColor;">Value</div><div class="t" style="left:1366.2px;top:134px;font-size:8.45px;line-height:10px;color:#717173;font-weight:400;">user@zup.com.br</div><div class="b" style="left:1366.2px;top:145.9px;width:80px;height:1.1px;background:#8c8c8e;"></div><div class="t" style="left:1157px;top:153px;font-size:7.4px;line-height:9px;color:#d4d4d4;font-weight:400;-webkit-text-stroke:.1px currentColor;">Key</div><div class="t" style="left:1157px;top:166px;font-size:8.45px;line-height:10px;color:#717173;font-weight:400;">username</div><div class="b" style="left:1157px;top:177.9px;width:80px;height:1.1px;background:#8c8c8e;"></div><div class="t" style="left:1262px;top:153px;font-size:7.4px;line-height:9px;color:#d4d4d4;font-weight:400;-webkit-text-stroke:.1px currentColor;">Conditional</div><div class="t" style="left:1262px;top:166px;font-size:8.45px;line-height:10px;color:#717173;font-weight:400;">Equal to</div><div class="b" style="left:1262px;top:177.9px;width:80px;height:1.1px;background:#8c8c8e;"></div><div class="t" style="left:1366.2px;top:153px;font-size:7.4px;line-height:9px;color:#d4d4d4;font-weight:400;-webkit-text-stroke:.1px currentColor;">Value</div><div class="t" style="left:1366.2px;top:166px;font-size:8.45px;line-height:10px;color:#717173;font-weight:400;">user@zup.com.br</div><div class="b" style="left:1366.2px;top:177.9px;width:80px;height:1.1px;background:#8c8c8e;"></div><div class="t" style="left:1157px;top:185px;font-size:7.4px;line-height:9px;color:#d4d4d4;font-weight:400;-webkit-text-stroke:.1px currentColor;">Key</div><div class="t" style="left:1157px;top:198px;font-size:8.45px;line-height:10px;color:#717173;font-weight:400;">username</div><div class="b" style="left:1157px;top:209.9px;width:80px;height:1.1px;background:#8c8c8e;"></div><div class="t" style="left:1262px;top:185px;font-size:7.4px;line-height:9px;color:#d4d4d4;font-weight:400;-webkit-text-stroke:.1px currentColor;">Conditional</div><div class="t" style="left:1262px;top:198px;font-size:8.45px;line-height:10px;color:#717173;font-weight:400;">Equal to</div><div class="b" style="left:1262px;top:209.9px;width:80px;height:1.1px;background:#8c8c8e;"></div><div class="t" style="left:1366.2px;top:185px;font-size:7.4px;line-height:9px;color:#d4d4d4;font-weight:400;-webkit-text-stroke:.1px currentColor;">Value</div><div class="t" style="left:1366.2px;top:198px;font-size:8.45px;line-height:10px;color:#717173;font-weight:400;">use.ferreira@zup.com.br</div><div class="b" style="left:1366.2px;top:209.9px;width:80px;height:1.1px;background:#8c8c8e;"></div><div class="t" style="left:1157px;top:218px;font-size:7.55px;line-height:9px;color:#cccccc;font-weight:400;-webkit-text-stroke:.1px currentColor;">Showing 3 of 26 entries</div><svg class="i" style="left:1129.2px;top:252.7px;width:14.6px;height:13.6px" viewBox="0 0 24 24" fill="none" stroke="#dcdcdc" stroke-width="2.1" stroke-linecap="round" stroke-linejoin="round" ><rect x="2" y="4" width="20" height="6" rx="3"/><rect x="2" y="14" width="20" height="6" rx="3"/></svg><div class="t" style="left:1157px;top:253px;font-size:11.5px;line-height:12px;color:#fff;font-weight:700;transform:scaleX(0.93);transform-origin:0 50%;">Release</div><div class="b" style="left:1156.8px;top:274.9px;width:169.8px;height:37.8px;background:#00a77e;border-radius:2.500px"></div><svg class="i" style="left:1167.7px;top:281.7px;width:9.8px;height:9.8px" viewBox="0 0 24 24" fill="none" stroke="#fff" stroke-width="2.3" stroke-linecap="round" stroke-linejoin="round" ><circle cx="12" cy="12" r="10"/><line x1="12" y1="16" x2="12" y2="12"/><line x1="12" y1="8" x2="12.01" y2="8"/></svg><div class="b" style="left:1183.1px;top:281.200px;width:40.200px;height:8.600px;border:.8px solid #fff;border-radius:5px"></div><div class="t" style="left:1192.1px;top:284px;font-size:5.85px;line-height:6px;color:#fff;font-weight:400;">Deployed</div><div class="t" style="left:1167.5px;top:297px;font-size:8.7px;line-height:10px;color:#fff;font-weight:400;">release-h1.1.14</div><svg class="i" style="left:1129px;top:338px;width:15px;height:14px" viewBox="0 0 24 24" fill="none" stroke="#dcdcdc" stroke-width="2" stroke-linecap="round" stroke-linejoin="round" ><polyline points="22 12 18 12 15 21 9 3 6 12 2 12"/></svg><div class="t" style="left:1157px;top:340px;font-size:11.5px;line-height:12px;color:#fff;font-weight:700;transform:scaleX(0.95);transform-origin:0 50%;">Health</div><div class="t" style="left:1416.5px;top:341px;font-size:7.3px;line-height:9px;color:#f0f0f0;font-weight:400;">Requests</div><svg class="i" style="left:1451.3px;top:339.5px;width:12px;height:12px" viewBox="0 0 24 24" fill="none" stroke="#dcdcdc" stroke-width="2.3" stroke-linecap="round" stroke-linejoin="round" ><polyline points="15 18 9 12 15 6"/></svg><svg class="i" style="left:1468.4px;top:339.5px;width:12px;height:12px" viewBox="0 0 24 24" fill="none" stroke="#dcdcdc" stroke-width="2.3" stroke-linecap="round" stroke-linejoin="round" ><polyline points="9 18 15 12 9 6"/></svg><div class="b" style="left:1156.5px;top:362.3px;width:322.5px;height:175px;background:#2c2c2e;border-radius:3px"></div><svg class="i" style="left:1178.5px;top:372.55px;width:9.8px;height:10.2px" viewBox="0 0 24 24" fill="none" stroke="#c8c8c8" stroke-width="2.1" stroke-linecap="round" stroke-linejoin="round" preserveAspectRatio="none"><polygon points="22 3 2 3 10 12.46 10 19 14 21 14 12.46 22 3"/></svg><div class="t" style="left:1191.5px;top:374px;font-size:7.55px;line-height:9px;color:#b8b8b8;font-weight:400;">Filter components</div><svg class="i" style="left:1462.6px;top:372.9px;width:9.2px;height:9.2px" viewBox="0 0 24 24" fill="none" stroke="#d0d0d0" stroke-width="2" stroke-linecap="round" stroke-linejoin="round" ><path d="M8 3H5a2 2 0 0 0-2 2v3m18 0V5a2 2 0 0 0-2-2h-3m0 18h3a2 2 0 0 0 2-2v-3M3 16v3a2 2 0 0 0 2 2h3"/></svg><svg class="i" style="left:1157px;top:390px;width:322px;height:143px" viewBox="323 390 322 143"><defs><linearGradient id="gblue1109" x1="0" y1="400" x2="0" y2="492" gradientUnits="userSpaceOnUse"><stop offset="0" stop-color="#4398c8" stop-opacity="0.74"/><stop offset="1" stop-color="#1c4a66" stop-opacity="0.55"/></linearGradient><linearGradient id="gmint1109" x1="0" y1="400" x2="0" y2="492" gradientUnits="userSpaceOnUse"><stop offset="0" stop-color="#8c9438" stop-opacity="0.52"/><stop offset="0.5" stop-color="#8c9438" stop-opacity="0.36"/><stop offset="1" stop-color="#6a6a20" stop-opacity="0"/></linearGradient><linearGradient id="gy11109" x1="0" y1="400" x2="0" y2="492" gradientUnits="userSpaceOnUse"><stop offset="0" stop-color="#dcae00" stop-opacity="0.62"/><stop offset="0.5" stop-color="#d0a400" stop-opacity="0.42"/><stop offset="1" stop-color="#7a6400" stop-opacity="0"/></linearGradient><linearGradient id="gy21109" x1="0" y1="400" x2="0" y2="492" gradientUnits="userSpaceOnUse"><stop offset="0" stop-color="#e09400" stop-opacity="0.64"/><stop offset="0.5" stop-color="#d89000" stop-opacity="0.42"/><stop offset="1" stop-color="#6a4800" stop-opacity="0"/></linearGradient><linearGradient id="gpurple1109" x1="0" y1="400" x2="0" y2="492" gradientUnits="userSpaceOnUse"><stop offset="0" stop-color="#5e54e4" stop-opacity="0.62"/><stop offset="0.45" stop-color="#7a68d8" stop-opacity="0.5"/><stop offset="0.7" stop-color="#a88890" stop-opacity="0.36"/><stop offset="1" stop-color="#a08088" stop-opacity="0.22"/></linearGradient><linearGradient id="ggreen1109" x1="0" y1="400" x2="0" y2="492" gradientUnits="userSpaceOnUse"><stop offset="0" stop-color="#a8e418" stop-opacity="0.6"/><stop offset="0.55" stop-color="#98d820" stop-opacity="0.56"/><stop offset="0.8" stop-color="#3a9a5c" stop-opacity="0.5"/><stop offset="1" stop-color="#1a8a64" stop-opacity="0.5"/></linearGradient><linearGradient id="gpink1109" x1="0" y1="400" x2="0" y2="492" gradientUnits="userSpaceOnUse"><stop offset="0" stop-color="#f07434" stop-opacity="0.48"/><stop offset="0.55" stop-color="#e07040" stop-opacity="0.38"/><stop offset="1" stop-color="#7a5c6c" stop-opacity="0.2"/></linearGradient></defs><line x1="358" y1="407.7" x2="622" y2="407.7" stroke="#38383a" stroke-width=".6"/><line x1="358" y1="428.4" x2="622" y2="428.4" stroke="#38383a" stroke-width=".6"/><line x1="358" y1="449.1" x2="622" y2="449.1" stroke="#38383a" stroke-width=".6"/><line x1="358" y1="469.8" x2="622" y2="469.8" stroke="#38383a" stroke-width=".6"/><line x1="358" y1="490.5" x2="622" y2="490.5" stroke="#38383a" stroke-width=".6"/><polygon points="360.0,419.5 378.3,409.0 396.6,415.5 414.9,420.6 433.1,411.4 451.4,414.8 469.7,429.2 488.0,444.7 506.3,438.5 524.6,423.0 542.9,416.4 561.1,421.4 579.4,406.5 597.7,399.3 616.0,410.2 616,490.5 360,490.5" fill="url(#gblue1109)"/><polygon points="360.0,418.6 378.3,407.8 396.6,414.7 414.9,429.4 433.1,425.0 451.4,434.3 469.7,443.0 488.0,451.9 506.3,439.5 524.6,424.0 542.9,420.0 561.1,441.6 579.4,427.0 597.7,420.0 616.0,432.3 616,490.5 360,490.5" fill="url(#gy11109)"/><polygon points="360.0,426.1 378.3,411.7 396.6,418.6 414.9,421.8 433.1,426.0 451.4,435.3 469.7,444.0 488.0,451.2 506.3,438.7 524.6,423.4 542.9,419.3 561.1,442.0 579.4,428.0 597.7,420.3 616.0,429.4 616,490.5 360,490.5" fill="url(#gmint1109)"/><polygon points="360.0,447.2 378.3,431.4 396.6,438.7 414.9,409.8 433.1,431.8 451.4,436.4 469.7,450.0 488.0,464.3 506.3,457.0 524.6,446.7 542.9,437.4 561.1,442.6 579.4,428.5 597.7,421.5 616.0,434.0 616,490.5 360,490.5" fill="url(#gy21109)"/><polygon points="360.0,457.0 378.3,442.2 396.6,449.1 414.9,421.6 433.1,441.8 451.4,445.7 469.7,460.0 488.0,474.6 506.3,469.4 524.6,458.0 542.9,448.8 561.1,451.9 579.4,437.4 597.7,430.2 616.0,439.5 616,490.5 360,490.5" fill="url(#ggreen1109)"/><polygon points="360.0,447.2 378.3,436.3 396.6,443.2 414.9,458.0 433.1,453.0 451.4,461.2 469.7,473.5 488.0,480.8 506.3,466.3 524.6,451.9 542.9,447.8 561.1,426.1 579.4,455.6 597.7,448.2 616.0,462.2 616,490.5 360,490.5" fill="url(#gpurple1109)"/><polygon points="360.0,477.7 378.3,463.3 396.6,470.8 414.9,479.6 433.1,463.0 451.4,442.6 469.7,456.0 488.0,470.6 506.3,476.2 524.6,465.3 542.9,475.6 561.1,485.9 579.4,470.9 597.7,463.8 616.0,437.0 616,490.5 360,490.5" fill="url(#gpink1109)"/><linearGradient id="ov1109" x1="0" y1="450" x2="0" y2="490.5" gradientUnits="userSpaceOnUse"><stop offset="0" stop-color="#2e393b" stop-opacity="0"/><stop offset=".55" stop-color="#2e393b" stop-opacity=".52"/><stop offset="1" stop-color="#2e393b" stop-opacity=".97"/></linearGradient><polygon points="360.0,418.6 361.0,418.0 362.0,417.4 363.0,416.8 364.0,416.2 365.0,415.6 366.0,415.1 367.0,414.5 368.0,413.9 369.0,413.3 370.0,412.7 371.0,412.1 372.0,411.5 373.0,410.9 374.0,410.3 375.0,409.7 376.0,409.2 377.0,408.6 378.0,408.0 379.0,408.1 380.0,408.4 381.0,408.8 382.0,409.2 383.0,409.6 384.0,410.0 385.0,410.3 386.0,410.7 387.0,411.1 388.0,411.5 389.0,411.8 390.0,412.2 391.0,412.6 392.0,413.0 393.0,413.4 394.0,413.7 395.0,414.1 396.0,414.5 397.0,415.0 398.0,415.8 399.0,416.2 400.0,416.5 401.0,416.7 402.0,417.0 403.0,417.3 404.0,417.6 405.0,417.9 406.0,418.1 407.0,418.4 408.0,418.7 409.0,419.0 410.0,417.5 411.0,415.9 412.0,414.3 413.0,412.7 414.0,411.2 415.0,410.0 416.0,411.2 417.0,412.4 418.0,413.6 419.0,414.8 420.0,416.0 421.0,417.2 422.0,417.0 423.0,416.5 424.0,416.0 425.0,415.5 426.0,415.0 427.0,414.5 428.0,414.0 429.0,413.5 430.0,413.0 431.0,412.5 432.0,412.0 433.0,411.5 434.0,411.6 435.0,411.7 436.0,411.9 437.0,412.1 438.0,412.3 439.0,412.5 440.0,412.7 441.0,412.9 442.0,413.0 443.0,413.2 444.0,413.4 445.0,413.6 446.0,413.8 447.0,414.0 448.0,414.2 449.0,414.3 450.0,414.5 451.0,414.7 452.0,415.2 453.0,416.0 454.0,416.8 455.0,417.6 456.0,418.4 457.0,419.2 458.0,420.0 459.0,420.8 460.0,421.6 461.0,422.3 462.0,423.1 463.0,423.9 464.0,424.7 465.0,425.5 466.0,426.3 467.0,427.1 468.0,427.8 469.0,428.6 470.0,429.4 471.0,430.3 472.0,431.1 473.0,432.0 474.0,432.8 475.0,433.7 476.0,434.5 477.0,435.4 478.0,436.2 479.0,437.1 480.0,437.9 481.0,438.8 482.0,439.6 483.0,440.5 484.0,441.3 485.0,442.2 486.0,443.0 487.0,443.9 488.0,444.7 489.0,444.4 490.0,444.0 491.0,443.7 492.0,443.3 493.0,443.0 494.0,442.7 495.0,442.3 496.0,442.0 497.0,441.6 498.0,441.3 499.0,441.0 500.0,440.6 501.0,440.3 502.0,440.0 503.0,439.6 504.0,439.3 505.0,438.9 506.0,438.6 507.0,437.9 508.0,437.0 509.0,436.2 510.0,435.4 511.0,434.5 512.0,433.7 513.0,432.8 514.0,432.0 515.0,431.1 516.0,430.3 517.0,429.4 518.0,428.6 519.0,427.7 520.0,426.9 521.0,426.0 522.0,425.2 523.0,424.3 524.0,423.5 525.0,422.8 526.0,422.5 527.0,422.1 528.0,421.8 529.0,421.4 530.0,421.0 531.0,420.7 532.0,420.3 533.0,420.0 534.0,419.6 535.0,419.2 536.0,418.9 537.0,418.5 538.0,418.2 539.0,417.8 540.0,417.4 541.0,417.1 542.0,416.7 543.0,416.4 544.0,416.7 545.0,417.0 546.0,417.3 547.0,417.5 548.0,417.8 549.0,418.1 550.0,418.4 551.0,418.6 552.0,418.9 553.0,419.2 554.0,419.4 555.0,419.7 556.0,420.0 557.0,420.3 558.0,420.5 559.0,420.8 560.0,421.1 561.0,421.4 562.0,420.7 563.0,419.9 564.0,419.1 565.0,418.3 566.0,417.4 567.0,416.6 568.0,415.8 569.0,415.0 570.0,414.2 571.0,413.4 572.0,412.6 573.0,411.7 574.0,410.9 575.0,410.1 576.0,409.3 577.0,408.5 578.0,407.7 579.0,406.8 580.0,406.3 581.0,405.9 582.0,405.5 583.0,405.1 584.0,404.7 585.0,404.3 586.0,403.9 587.0,403.5 588.0,403.1 589.0,402.7 590.0,402.3 591.0,401.9 592.0,401.6 593.0,401.2 594.0,400.8 595.0,400.4 596.0,400.0 597.0,399.6 598.0,399.5 599.0,400.1 600.0,400.7 601.0,401.3 602.0,401.9 603.0,402.5 604.0,403.0 605.0,403.6 606.0,404.2 607.0,404.8 608.0,405.4 609.0,406.0 610.0,406.6 611.0,407.2 612.0,407.8 613.0,408.4 614.0,409.0 615.0,409.6 616.0,410.2 616.3,491.1 359.7,491.1" fill="url(#ov1109)"/><polyline points="360.0,417.5 361.0,416.9 362.0,416.3 363.0,415.7 364.0,415.1 365.0,414.5 366.0,414.0 367.0,413.4 368.0,412.8 369.0,412.2 370.0,411.6 371.0,411.0 372.0,410.4 373.0,409.8 374.0,409.2 375.0,408.6 376.0,408.1 377.0,407.5 378.0,406.9 379.0,407.0 380.0,407.3 381.0,407.7 382.0,408.1 383.0,408.5 384.0,408.9 385.0,409.2 386.0,409.6 387.0,410.0 388.0,410.4 389.0,410.7 390.0,411.1 391.0,411.5 392.0,411.9 393.0,412.3 394.0,412.6 395.0,413.0 396.0,413.4 397.0,413.9 398.0,414.7 399.0,415.1 400.0,415.4 401.0,415.6 402.0,415.9 403.0,416.2 404.0,416.5 405.0,416.8 406.0,417.0 407.0,417.3 408.0,417.6 409.0,417.9 410.0,416.4 411.0,414.8 412.0,413.2 413.0,411.6 414.0,410.1 415.0,408.9 416.0,410.1 417.0,411.3 418.0,412.5 419.0,413.7 420.0,414.9 421.0,416.1 422.0,415.9 423.0,415.4 424.0,414.9 425.0,414.4 426.0,413.9 427.0,413.4 428.0,412.9 429.0,412.4 430.0,411.9 431.0,411.4 432.0,410.9 433.0,410.4 434.0,410.5 435.0,410.6 436.0,410.8 437.0,411.0 438.0,411.2 439.0,411.4 440.0,411.6 441.0,411.8 442.0,411.9 443.0,412.1 444.0,412.3 445.0,412.5 446.0,412.7 447.0,412.9 448.0,413.1 449.0,413.2 450.0,413.4 451.0,413.6 452.0,414.1 453.0,414.9 454.0,415.7 455.0,416.5 456.0,417.3 457.0,418.1 458.0,418.9 459.0,419.7 460.0,420.4 461.0,421.2 462.0,422.0 463.0,422.8 464.0,423.6 465.0,424.4 466.0,425.2 467.0,426.0 468.0,426.7 469.0,427.5 470.0,428.3 471.0,429.2 472.0,430.0 473.0,430.9 474.0,431.7 475.0,432.6 476.0,433.4 477.0,434.3 478.0,435.1 479.0,436.0 480.0,436.8 481.0,437.7 482.0,438.5 483.0,439.4 484.0,440.2 485.0,441.1 486.0,441.9 487.0,442.8 488.0,443.6 489.0,443.3 490.0,442.9 491.0,442.6 492.0,442.2 493.0,441.9 494.0,441.6 495.0,441.2 496.0,440.9 497.0,440.5 498.0,440.2 499.0,439.9 500.0,439.5 501.0,439.2 502.0,438.9 503.0,438.5 504.0,438.2 505.0,437.8 506.0,437.5 507.0,436.8 508.0,435.9 509.0,435.1 510.0,434.3 511.0,433.4 512.0,432.6 513.0,431.7 514.0,430.9 515.0,430.0 516.0,429.2 517.0,428.3 518.0,427.5 519.0,426.6 520.0,425.8 521.0,424.9 522.0,424.1 523.0,423.2 524.0,422.4 525.0,421.7 526.0,421.4 527.0,421.0 528.0,420.7 529.0,420.3 530.0,419.9 531.0,419.6 532.0,419.2 533.0,418.9 534.0,418.5 535.0,418.1 536.0,417.8 537.0,417.4 538.0,417.1 539.0,416.7 540.0,416.3 541.0,416.0 542.0,415.6 543.0,415.3 544.0,415.6 545.0,415.9 546.0,416.2 547.0,416.4 548.0,416.7 549.0,417.0 550.0,417.3 551.0,417.5 552.0,417.8 553.0,418.1 554.0,418.3 555.0,418.6 556.0,418.9 557.0,419.2 558.0,419.4 559.0,419.7 560.0,420.0 561.0,420.3 562.0,419.6 563.0,418.8 564.0,418.0 565.0,417.2 566.0,416.3 567.0,415.5 568.0,414.7 569.0,413.9 570.0,413.1 571.0,412.3 572.0,411.5 573.0,410.6 574.0,409.8 575.0,409.0 576.0,408.2 577.0,407.4 578.0,406.6 579.0,405.7 580.0,405.2 581.0,404.8 582.0,404.4 583.0,404.0 584.0,403.6 585.0,403.2 586.0,402.8 587.0,402.4 588.0,402.0 589.0,401.6 590.0,401.2 591.0,400.8 592.0,400.4 593.0,400.1 594.0,399.7 595.0,399.3 596.0,398.9 597.0,398.5 598.0,398.4 599.0,399.0 600.0,399.6 601.0,400.2 602.0,400.8 603.0,401.4 604.0,401.9 605.0,402.5 606.0,403.1 607.0,403.7 608.0,404.3 609.0,404.9 610.0,405.5 611.0,406.1 612.0,406.7 613.0,407.3 614.0,407.9 615.0,408.5 616.0,409.1" fill="none" stroke="#16182e" stroke-width="1.3" stroke-linejoin="round" opacity=".85"/><polyline points="360.0,419.5 378.3,409.0 396.6,415.5 414.9,420.6 433.1,411.4 451.4,414.8 469.7,429.2 488.0,444.7 506.3,438.5 524.6,423.0 542.9,416.4 561.1,421.4 579.4,406.5 597.7,399.3 616.0,410.2" fill="none" stroke="#4ab4e6" stroke-width="1.100" stroke-linejoin="round"/><polyline points="360.0,426.1 378.3,411.7 396.6,418.6 414.9,421.8 433.1,426.0 451.4,435.3 469.7,444.0 488.0,451.2 506.3,438.7 524.6,423.4 542.9,419.3 561.1,442.0 579.4,428.0 597.7,420.3 616.0,429.4" fill="none" stroke="#a8dcb8" stroke-width="1.100" stroke-linejoin="round"/><polyline points="360.0,418.6 378.3,407.8 396.6,414.7 414.9,429.4 433.1,425.0 451.4,434.3 469.7,443.0 488.0,451.9 506.3,439.5 524.6,424.0 542.9,420.0 561.1,441.6 579.4,427.0 597.7,420.0 616.0,432.3" fill="none" stroke="#f5c800" stroke-width="1.100" stroke-linejoin="round"/><polyline points="360.0,447.2 378.3,431.4 396.6,438.7 414.9,409.8 433.1,431.8 451.4,436.4 469.7,450.0 488.0,464.3 506.3,457.0 524.6,446.7 542.9,437.4 561.1,442.6 579.4,428.5 597.7,421.5 616.0,434.0" fill="none" stroke="#f0b000" stroke-width="1.100" stroke-linejoin="round"/><polyline points="360.0,457.0 378.3,442.2 396.6,449.1 414.9,421.6 433.1,441.8 451.4,445.7 469.7,460.0 488.0,474.6 506.3,469.4 524.6,458.0 542.9,448.8 561.1,451.9 579.4,437.4 597.7,430.2 616.0,439.5" fill="none" stroke="#86dc50" stroke-width="1.100" stroke-linejoin="round"/><polyline points="360.0,447.2 378.3,436.3 396.6,443.2 414.9,458.0 433.1,453.0 451.4,461.2 469.7,473.5 488.0,480.8 506.3,466.3 524.6,451.9 542.9,447.8 561.1,426.1 579.4,455.6 597.7,448.2 616.0,462.2" fill="none" stroke="#8d80d8" stroke-width="1.100" stroke-linejoin="round"/><polyline points="360.0,477.7 378.3,463.3 396.6,470.8 414.9,479.6 433.1,463.0 451.4,442.6 469.7,456.0 488.0,470.6 506.3,476.2 524.6,465.3 542.9,475.6 561.1,485.9 579.4,470.9 597.7,463.8 616.0,437.0" fill="none" stroke="#e8467c" stroke-width="1.100" stroke-linejoin="round"/><text x="344.500" y="406.3" font-size="3.900" fill="#ececec" stroke="#ececec" stroke-width=".15" font-family='"Liberation Sans", sans-serif'>2000</text><text x="344.500" y="427.0" font-size="3.900" fill="#ececec" stroke="#ececec" stroke-width=".15" font-family='"Liberation Sans", sans-serif'>1500</text><text x="344.500" y="447.7" font-size="3.900" fill="#ececec" stroke="#ececec" stroke-width=".15" font-family='"Liberation Sans", sans-serif'>1000</text><text x="344.500" y="468.4" font-size="3.900" fill="#ececec" stroke="#ececec" stroke-width=".15" font-family='"Liberation Sans", sans-serif'>500</text><text x="344.500" y="489.1" font-size="3.900" fill="#ececec" stroke="#ececec" stroke-width=".15" font-family='"Liberation Sans", sans-serif'>0</text><text x="379.3" y="502.200" font-size="4.100" fill="#ececec" stroke="#ececec" stroke-width=".15" text-anchor="middle" font-family='"Liberation Sans", sans-serif'>21.04</text><text x="413.8" y="502.200" font-size="4.100" fill="#ececec" stroke="#ececec" stroke-width=".15" text-anchor="middle" font-family='"Liberation Sans", sans-serif'>22.04</text><text x="448.3" y="502.200" font-size="4.100" fill="#ececec" stroke="#ececec" stroke-width=".15" text-anchor="middle" font-family='"Liberation Sans", sans-serif'>23.04</text><text x="482.8" y="502.200" font-size="4.100" fill="#ececec" stroke="#ececec" stroke-width=".15" text-anchor="middle" font-family='"Liberation Sans", sans-serif'>24.04</text><text x="517.3" y="502.200" font-size="4.100" fill="#ececec" stroke="#ececec" stroke-width=".15" text-anchor="middle" font-family='"Liberation Sans", sans-serif'>25.04</text><text x="551.8" y="502.200" font-size="4.100" fill="#ececec" stroke="#ececec" stroke-width=".15" text-anchor="middle" font-family='"Liberation Sans", sans-serif'>26.04</text><text x="586.3" y="502.200" font-size="4.100" fill="#ececec" stroke="#ececec" stroke-width=".15" text-anchor="middle" font-family='"Liberation Sans", sans-serif'>27.04</text><text x="427.8" y="520.800" font-size="5" fill="#f4f4f4" stroke="#f4f4f4" stroke-width=".22" text-anchor="middle" font-family='"Liberation Sans", sans-serif'>Hour</text><text x="462.8" y="520.800" font-size="5" fill="#f4f4f4" stroke="#f4f4f4" stroke-width=".22" text-anchor="middle" font-family='"Liberation Sans", sans-serif'>Day</text><text x="498.6" y="520.800" font-size="5" fill="#f4f4f4" stroke="#f4f4f4" stroke-width=".22" text-anchor="middle" font-family='"Liberation Sans", sans-serif'>Week</text><text x="537.7" y="520.800" font-size="5" fill="#f4f4f4" stroke="#f4f4f4" stroke-width=".22" text-anchor="middle" font-family='"Liberation Sans", sans-serif'>Month</text><rect x="487.200" y="512.800" width="23.200" height="11.200" rx="5.600" fill="none" stroke="#dedede" stroke-width="1"/></svg>
<div class="b" style="left:600px;top:24px;width:86px;height:124px;background:#2c2c2e;border-radius:0 0 4px 4px;box-shadow:0 2px 6px rgba(0,0,0,.35)"></div>
<div class="b" style="left:600px;top:66px;width:86px;height:17.5px;background:#3a3a3c;"></div>
<svg class="i" style="left:605.7px;top:31.300000000000004px;width:7.8px;height:7.8px" viewBox="0 0 24 24" fill="none" stroke="#bcbcbc" stroke-width="2.5" stroke-linecap="round" stroke-linejoin="round" ><path d="M11 4H4a2 2 0 0 0-2 2v14a2 2 0 0 0 2 2h14a2 2 0 0 0 2-2v-7"/><path d="M18.5 2.5a2.121 2.121 0 0 1 3 3L12 15l-4 1 1-4 9.5-9.5z"/></svg>
<div class="t" style="left:619.5px;top:31px;font-size:7.45px;line-height:9px;color:#bebebe;font-weight:400;-webkit-text-stroke:.12px currentColor;">Edit sgments</div>
<svg class="i" style="left:605.7px;top:50.85px;width:7.8px;height:7.8px" viewBox="0 0 24 24" fill="none" stroke="#bcbcbc" stroke-width="2.5" stroke-linecap="round" stroke-linejoin="round" ><circle cx="12" cy="12" r="10"/><circle cx="12" cy="12" r="2.5"/></svg>
<div class="t" style="left:619.5px;top:51px;font-size:7.45px;line-height:9px;color:#bebebe;font-weight:400;-webkit-text-stroke:.12px currentColor;">Undeploy</div>
<svg class="i" style="left:605.7px;top:70.4px;width:7.8px;height:7.8px" viewBox="0 0 24 24" fill="none" stroke="#bcbcbc" stroke-width="2.5" stroke-linecap="round" stroke-linejoin="round" ><circle cx="12" cy="12" r="10"/><polyline points="12 6 12 12 16 14"/></svg>
<div class="t" style="left:619.5px;top:70px;font-size:7.45px;line-height:9px;color:#bebebe;font-weight:400;-webkit-text-stroke:.12px currentColor;">History</div>
<svg class="i" style="left:605.7px;top:89.95px;width:7.8px;height:7.8px" viewBox="0 0 24 24" fill="none" stroke="#bcbcbc" stroke-width="2.5" stroke-linecap="round" stroke-linejoin="round" ><rect x="9" y="9" width="13" height="13" rx="3"/><path d="M5 15H4a2 2 0 0 1-2-2V4a2 2 0 0 1 2-2h9a2 2 0 0 1 2 2v1"/></svg>
<div class="t" style="left:619.5px;top:90px;font-size:7.45px;line-height:9px;color:#bebebe;font-weight:400;-webkit-text-stroke:.12px currentColor;">Copy ID</div>
<svg class="i" style="left:605.7px;top:109.5px;width:7.8px;height:7.8px" viewBox="0 0 24 24" fill="none" stroke="#bcbcbc" stroke-width="2.5" stroke-linecap="round" stroke-linejoin="round" ><rect x="9" y="9" width="13" height="13" rx="3"/><path d="M5 15H4a2 2 0 0 1-2-2V4a2 2 0 0 1 2-2h9a2 2 0 0 1 2 2v1"/></svg>
<div class="t" style="left:619.5px;top:109px;font-size:7.45px;line-height:9px;color:#bebebe;font-weight:400;-webkit-text-stroke:.12px currentColor;">Copy link</div>
<svg class="i" style="left:605.7px;top:129.04999999999998px;width:7.8px;height:7.8px" viewBox="0 0 24 24" fill="none" stroke="#bcbcbc" stroke-width="2.5" stroke-linecap="round" stroke-linejoin="round" ><path d="M4 7h16"/><path d="M9 7V4h6v3"/><rect x="5" y="7" width="14" height="15" rx="3"/><line x1="10" y1="13" x2="14" y2="13"/></svg>
<div class="t" style="left:619.5px;top:129px;font-size:7.45px;line-height:9px;color:#bebebe;font-weight:400;-webkit-text-stroke:.12px currentColor;">Delete</div>
</div></body></html>
